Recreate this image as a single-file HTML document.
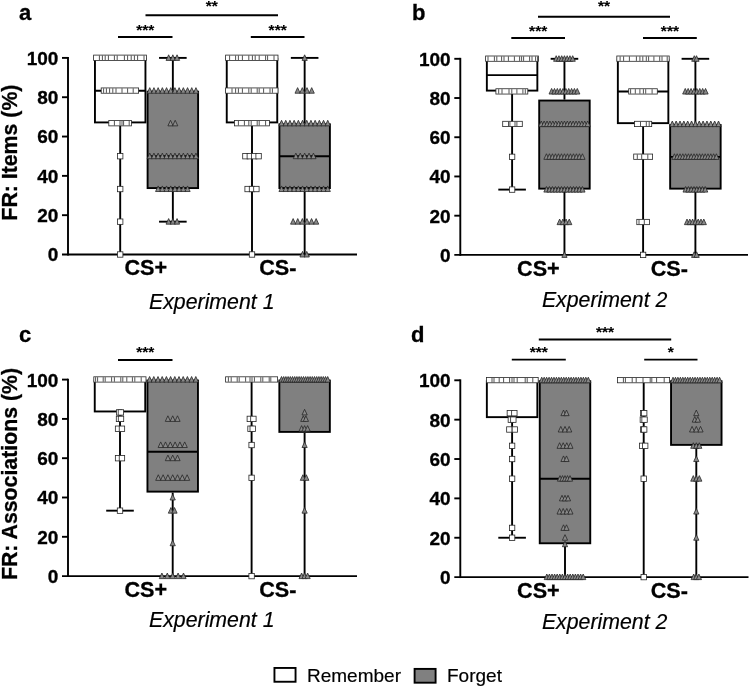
<!DOCTYPE html>
<html lang="en"><head><meta charset="utf-8"><title>Free recall: Remember vs Forget</title>
<style>html,body{margin:0;padding:0;background:#fff}body{width:750px;height:688px;overflow:hidden}svg{display:block}text{font-family:"Liberation Sans", sans-serif;fill:#000;stroke:#000;stroke-width:.18px}text[font-weight=bold]{stroke-width:.3px}</style></head><body>
<svg width="750" height="688" viewBox="0 0 750 688">
<rect width="750" height="688" fill="#fff"/>
<g id="panel-a">
<line x1="68" y1="56.95" x2="68" y2="255.45" stroke="#000" stroke-width="1.9" stroke-linecap="butt"/>
<line x1="62" y1="254.5" x2="357" y2="254.5" stroke="#000" stroke-width="1.9" stroke-linecap="butt"/>
<line x1="62" y1="215.18" x2="68" y2="215.18" stroke="#000" stroke-width="1.9" stroke-linecap="butt"/>
<line x1="62" y1="175.86" x2="68" y2="175.86" stroke="#000" stroke-width="1.9" stroke-linecap="butt"/>
<line x1="62" y1="136.54" x2="68" y2="136.54" stroke="#000" stroke-width="1.9" stroke-linecap="butt"/>
<line x1="62" y1="97.22" x2="68" y2="97.22" stroke="#000" stroke-width="1.9" stroke-linecap="butt"/>
<line x1="62" y1="57.9" x2="68" y2="57.9" stroke="#000" stroke-width="1.9" stroke-linecap="butt"/>
<text x="58.4" y="261.4" font-size="19" font-weight="bold" font-style="normal" text-anchor="end" >0</text>
<text x="58.4" y="222.08" font-size="19" font-weight="bold" font-style="normal" text-anchor="end" >20</text>
<text x="58.4" y="182.76" font-size="19" font-weight="bold" font-style="normal" text-anchor="end" >40</text>
<text x="58.4" y="143.44" font-size="19" font-weight="bold" font-style="normal" text-anchor="end" >60</text>
<text x="58.4" y="104.12" font-size="19" font-weight="bold" font-style="normal" text-anchor="end" >80</text>
<text x="58.4" y="64.8" font-size="19" font-weight="bold" font-style="normal" text-anchor="end" >100</text>
<line x1="120.2" y1="123.37" x2="120.2" y2="254.5" stroke="#000" stroke-width="1.9" stroke-linecap="butt"/>
<rect x="94.95" y="58.85" width="50.5" height="63.57" fill="#fff" stroke="#000" stroke-width="1.9"/>
<line x1="94.95" y1="90.73" x2="145.45" y2="90.73" stroke="#000" stroke-width="1.9" stroke-linecap="butt"/>
<rect x="93.6" y="55.1" width="52.8" height="5.3" fill="#fff" stroke="#262626" stroke-width="0.8"/>
<path d="M99.4 55.5V60 M102.4 55.5V60 M105.2 55.5V60 M108.4 55.5V60 M114.4 55.5V60 M117.2 55.5V60 M124.4 55.5V60 M127.6 55.5V60 M131.2 55.5V60 M134.4 55.5V60 M137.6 55.5V60 M144 55.5V60" stroke="#262626" stroke-width="0.8" fill="none"/>
<rect x="101.2" y="87.93" width="37.4" height="5.3" fill="#fff" stroke="#262626" stroke-width="0.8"/>
<path d="M103.6 88.33V92.83 M106.4 88.33V92.83 M109.6 88.33V92.83 M112.8 88.33V92.83 M116 88.33V92.83 M122 88.33V92.83 M127.6 88.33V92.83 M133.2 88.33V92.83" stroke="#262626" stroke-width="0.8" fill="none"/>
<rect x="108.8" y="120.57" width="22.6" height="5.3" fill="#fff" stroke="#262626" stroke-width="0.8"/>
<path d="M114.4 120.97V125.47 M120 120.97V125.47 M122 120.97V125.47 M123.6 120.97V125.47 M129.2 120.97V125.47" stroke="#262626" stroke-width="0.8" fill="none"/>
<rect x="117.5" y="153.5" width="5.4" height="5.4" fill="#fff" stroke="#262626" stroke-width="0.8"/>
<rect x="117.5" y="186.33" width="5.4" height="5.4" fill="#fff" stroke="#262626" stroke-width="0.8"/>
<rect x="117.5" y="218.97" width="5.4" height="5.4" fill="#fff" stroke="#262626" stroke-width="0.8"/>
<rect x="117.5" y="251.8" width="5.4" height="5.4" fill="#fff" stroke="#262626" stroke-width="0.8"/>
<line x1="172.85" y1="90.73" x2="172.85" y2="57.9" stroke="#000" stroke-width="1.9" stroke-linecap="butt"/>
<line x1="159.05" y1="57.9" x2="186.65" y2="57.9" stroke="#000" stroke-width="1.9" stroke-linecap="butt"/>
<line x1="172.85" y1="189.03" x2="172.85" y2="221.67" stroke="#000" stroke-width="1.9" stroke-linecap="butt"/>
<line x1="159.05" y1="221.67" x2="186.65" y2="221.67" stroke="#000" stroke-width="1.9" stroke-linecap="butt"/>
<rect x="147.6" y="91.68" width="50.5" height="96.4" fill="#808080" stroke="#000" stroke-width="1.9"/>
<line x1="147.6" y1="156.2" x2="198.1" y2="156.2" stroke="#000" stroke-width="1.9" stroke-linecap="butt"/>
<polygon points="168.65,54.8 171.25,60.4 166.05,60.4" fill="#8a8a8a" stroke="#262626" stroke-width="0.8" stroke-linejoin="miter"/>
<polygon points="172.85,54.8 175.45,60.4 170.25,60.4" fill="#8a8a8a" stroke="#262626" stroke-width="0.8" stroke-linejoin="miter"/>
<polygon points="177.05,54.8 179.65,60.4 174.45,60.4" fill="#8a8a8a" stroke="#262626" stroke-width="0.8" stroke-linejoin="miter"/>
<polygon points="149.75,87.63 152.35,93.23 147.15,93.23" fill="#8a8a8a" stroke="#262626" stroke-width="0.8" stroke-linejoin="miter"/>
<polygon points="153.95,87.63 156.55,93.23 151.35,93.23" fill="#8a8a8a" stroke="#262626" stroke-width="0.8" stroke-linejoin="miter"/>
<polygon points="158.15,87.63 160.75,93.23 155.55,93.23" fill="#8a8a8a" stroke="#262626" stroke-width="0.8" stroke-linejoin="miter"/>
<polygon points="162.35,87.63 164.95,93.23 159.75,93.23" fill="#8a8a8a" stroke="#262626" stroke-width="0.8" stroke-linejoin="miter"/>
<polygon points="166.55,87.63 169.15,93.23 163.95,93.23" fill="#8a8a8a" stroke="#262626" stroke-width="0.8" stroke-linejoin="miter"/>
<polygon points="170.75,87.63 173.35,93.23 168.15,93.23" fill="#8a8a8a" stroke="#262626" stroke-width="0.8" stroke-linejoin="miter"/>
<polygon points="174.95,87.63 177.55,93.23 172.35,93.23" fill="#8a8a8a" stroke="#262626" stroke-width="0.8" stroke-linejoin="miter"/>
<polygon points="179.15,87.63 181.75,93.23 176.55,93.23" fill="#8a8a8a" stroke="#262626" stroke-width="0.8" stroke-linejoin="miter"/>
<polygon points="183.35,87.63 185.95,93.23 180.75,93.23" fill="#8a8a8a" stroke="#262626" stroke-width="0.8" stroke-linejoin="miter"/>
<polygon points="187.55,87.63 190.15,93.23 184.95,93.23" fill="#8a8a8a" stroke="#262626" stroke-width="0.8" stroke-linejoin="miter"/>
<polygon points="191.75,87.63 194.35,93.23 189.15,93.23" fill="#8a8a8a" stroke="#262626" stroke-width="0.8" stroke-linejoin="miter"/>
<polygon points="195.95,87.63 198.55,93.23 193.35,93.23" fill="#8a8a8a" stroke="#262626" stroke-width="0.8" stroke-linejoin="miter"/>
<polygon points="170.5,120.27 173.1,125.87 167.9,125.87" fill="#8a8a8a" stroke="#262626" stroke-width="0.8" stroke-linejoin="miter"/>
<polygon points="175.2,120.27 177.8,125.87 172.6,125.87" fill="#8a8a8a" stroke="#262626" stroke-width="0.8" stroke-linejoin="miter"/>
<polygon points="149.75,153.1 152.35,158.7 147.15,158.7" fill="#8a8a8a" stroke="#262626" stroke-width="0.8" stroke-linejoin="miter"/>
<polygon points="153.95,153.1 156.55,158.7 151.35,158.7" fill="#8a8a8a" stroke="#262626" stroke-width="0.8" stroke-linejoin="miter"/>
<polygon points="158.15,153.1 160.75,158.7 155.55,158.7" fill="#8a8a8a" stroke="#262626" stroke-width="0.8" stroke-linejoin="miter"/>
<polygon points="162.35,153.1 164.95,158.7 159.75,158.7" fill="#8a8a8a" stroke="#262626" stroke-width="0.8" stroke-linejoin="miter"/>
<polygon points="166.55,153.1 169.15,158.7 163.95,158.7" fill="#8a8a8a" stroke="#262626" stroke-width="0.8" stroke-linejoin="miter"/>
<polygon points="170.75,153.1 173.35,158.7 168.15,158.7" fill="#8a8a8a" stroke="#262626" stroke-width="0.8" stroke-linejoin="miter"/>
<polygon points="174.95,153.1 177.55,158.7 172.35,158.7" fill="#8a8a8a" stroke="#262626" stroke-width="0.8" stroke-linejoin="miter"/>
<polygon points="179.15,153.1 181.75,158.7 176.55,158.7" fill="#8a8a8a" stroke="#262626" stroke-width="0.8" stroke-linejoin="miter"/>
<polygon points="183.35,153.1 185.95,158.7 180.75,158.7" fill="#8a8a8a" stroke="#262626" stroke-width="0.8" stroke-linejoin="miter"/>
<polygon points="187.55,153.1 190.15,158.7 184.95,158.7" fill="#8a8a8a" stroke="#262626" stroke-width="0.8" stroke-linejoin="miter"/>
<polygon points="191.75,153.1 194.35,158.7 189.15,158.7" fill="#8a8a8a" stroke="#262626" stroke-width="0.8" stroke-linejoin="miter"/>
<polygon points="195.95,153.1 198.55,158.7 193.35,158.7" fill="#8a8a8a" stroke="#262626" stroke-width="0.8" stroke-linejoin="miter"/>
<polygon points="158.15,185.93 160.75,191.53 155.55,191.53" fill="#8a8a8a" stroke="#262626" stroke-width="0.8" stroke-linejoin="miter"/>
<polygon points="162.35,185.93 164.95,191.53 159.75,191.53" fill="#8a8a8a" stroke="#262626" stroke-width="0.8" stroke-linejoin="miter"/>
<polygon points="166.55,185.93 169.15,191.53 163.95,191.53" fill="#8a8a8a" stroke="#262626" stroke-width="0.8" stroke-linejoin="miter"/>
<polygon points="170.75,185.93 173.35,191.53 168.15,191.53" fill="#8a8a8a" stroke="#262626" stroke-width="0.8" stroke-linejoin="miter"/>
<polygon points="174.95,185.93 177.55,191.53 172.35,191.53" fill="#8a8a8a" stroke="#262626" stroke-width="0.8" stroke-linejoin="miter"/>
<polygon points="179.15,185.93 181.75,191.53 176.55,191.53" fill="#8a8a8a" stroke="#262626" stroke-width="0.8" stroke-linejoin="miter"/>
<polygon points="183.35,185.93 185.95,191.53 180.75,191.53" fill="#8a8a8a" stroke="#262626" stroke-width="0.8" stroke-linejoin="miter"/>
<polygon points="187.55,185.93 190.15,191.53 184.95,191.53" fill="#8a8a8a" stroke="#262626" stroke-width="0.8" stroke-linejoin="miter"/>
<polygon points="168.65,218.57 171.25,224.17 166.05,224.17" fill="#8a8a8a" stroke="#262626" stroke-width="0.8" stroke-linejoin="miter"/>
<polygon points="172.85,218.57 175.45,224.17 170.25,224.17" fill="#8a8a8a" stroke="#262626" stroke-width="0.8" stroke-linejoin="miter"/>
<polygon points="177.05,218.57 179.65,224.17 174.45,224.17" fill="#8a8a8a" stroke="#262626" stroke-width="0.8" stroke-linejoin="miter"/>
<line x1="252" y1="123.37" x2="252" y2="254.5" stroke="#000" stroke-width="1.9" stroke-linecap="butt"/>
<rect x="226.75" y="58.85" width="50.5" height="63.57" fill="#fff" stroke="#000" stroke-width="1.9"/>
<line x1="226.75" y1="90.73" x2="277.25" y2="90.73" stroke="#000" stroke-width="1.9" stroke-linecap="butt"/>
<rect x="225.6" y="55.1" width="52.4" height="5.3" fill="#fff" stroke="#262626" stroke-width="0.8"/>
<path d="M229.6 55.5V60 M235.6 55.5V60 M238.4 55.5V60 M242.4 55.5V60 M248.8 55.5V60 M252.4 55.5V60 M255.2 55.5V60 M259.2 55.5V60 M265.6 55.5V60 M267.6 55.5V60 M274 55.5V60" stroke="#262626" stroke-width="0.8" fill="none"/>
<rect x="225.6" y="87.93" width="52.4" height="5.3" fill="#fff" stroke="#262626" stroke-width="0.8"/>
<path d="M232 88.33V92.83 M235.6 88.33V92.83 M238.4 88.33V92.83 M242.4 88.33V92.83 M248.8 88.33V92.83 M251.2 88.33V92.83 M257.2 88.33V92.83 M259.2 88.33V92.83 M263.6 88.33V92.83 M270 88.33V92.83 M272.4 88.33V92.83" stroke="#262626" stroke-width="0.8" fill="none"/>
<rect x="234.4" y="120.57" width="35" height="5.3" fill="#fff" stroke="#262626" stroke-width="0.8"/>
<path d="M238.4 120.97V125.47 M244.4 120.97V125.47 M248.8 120.97V125.47 M251.2 120.97V125.47 M257.2 120.97V125.47 M259.2 120.97V125.47 M265.6 120.97V125.47" stroke="#262626" stroke-width="0.8" fill="none"/>
<rect x="242.7" y="153.5" width="5.4" height="5.4" fill="#fff" stroke="#262626" stroke-width="0.8"/>
<rect x="247.1" y="153.5" width="5.4" height="5.4" fill="#fff" stroke="#262626" stroke-width="0.8"/>
<rect x="251.5" y="153.5" width="5.4" height="5.4" fill="#fff" stroke="#262626" stroke-width="0.8"/>
<rect x="255.9" y="153.5" width="5.4" height="5.4" fill="#fff" stroke="#262626" stroke-width="0.8"/>
<rect x="244.9" y="186.33" width="5.4" height="5.4" fill="#fff" stroke="#262626" stroke-width="0.8"/>
<rect x="249.3" y="186.33" width="5.4" height="5.4" fill="#fff" stroke="#262626" stroke-width="0.8"/>
<rect x="253.7" y="186.33" width="5.4" height="5.4" fill="#fff" stroke="#262626" stroke-width="0.8"/>
<rect x="249.3" y="251.8" width="5.4" height="5.4" fill="#fff" stroke="#262626" stroke-width="0.8"/>
<line x1="304.65" y1="123.37" x2="304.65" y2="57.9" stroke="#000" stroke-width="1.9" stroke-linecap="butt"/>
<line x1="290.85" y1="57.9" x2="318.45" y2="57.9" stroke="#000" stroke-width="1.9" stroke-linecap="butt"/>
<line x1="304.65" y1="189.03" x2="304.65" y2="254.5" stroke="#000" stroke-width="1.9" stroke-linecap="butt"/>
<rect x="279.4" y="124.32" width="50.5" height="63.76" fill="#808080" stroke="#000" stroke-width="1.9"/>
<line x1="279.4" y1="156.2" x2="329.9" y2="156.2" stroke="#000" stroke-width="1.9" stroke-linecap="butt"/>
<polygon points="304.65,54.8 307.25,60.4 302.05,60.4" fill="#8a8a8a" stroke="#262626" stroke-width="0.8" stroke-linejoin="miter"/>
<polygon points="297.6,87.63 300.2,93.23 295,93.23" fill="#8a8a8a" stroke="#262626" stroke-width="0.8" stroke-linejoin="miter"/>
<polygon points="302.3,87.63 304.9,93.23 299.7,93.23" fill="#8a8a8a" stroke="#262626" stroke-width="0.8" stroke-linejoin="miter"/>
<polygon points="307,87.63 309.6,93.23 304.4,93.23" fill="#8a8a8a" stroke="#262626" stroke-width="0.8" stroke-linejoin="miter"/>
<polygon points="311.7,87.63 314.3,93.23 309.1,93.23" fill="#8a8a8a" stroke="#262626" stroke-width="0.8" stroke-linejoin="miter"/>
<polygon points="281.55,120.27 284.15,125.87 278.95,125.87" fill="#8a8a8a" stroke="#262626" stroke-width="0.8" stroke-linejoin="miter"/>
<polygon points="285.75,120.27 288.35,125.87 283.15,125.87" fill="#8a8a8a" stroke="#262626" stroke-width="0.8" stroke-linejoin="miter"/>
<polygon points="289.95,120.27 292.55,125.87 287.35,125.87" fill="#8a8a8a" stroke="#262626" stroke-width="0.8" stroke-linejoin="miter"/>
<polygon points="294.15,120.27 296.75,125.87 291.55,125.87" fill="#8a8a8a" stroke="#262626" stroke-width="0.8" stroke-linejoin="miter"/>
<polygon points="298.35,120.27 300.95,125.87 295.75,125.87" fill="#8a8a8a" stroke="#262626" stroke-width="0.8" stroke-linejoin="miter"/>
<polygon points="302.55,120.27 305.15,125.87 299.95,125.87" fill="#8a8a8a" stroke="#262626" stroke-width="0.8" stroke-linejoin="miter"/>
<polygon points="306.75,120.27 309.35,125.87 304.15,125.87" fill="#8a8a8a" stroke="#262626" stroke-width="0.8" stroke-linejoin="miter"/>
<polygon points="310.95,120.27 313.55,125.87 308.35,125.87" fill="#8a8a8a" stroke="#262626" stroke-width="0.8" stroke-linejoin="miter"/>
<polygon points="315.15,120.27 317.75,125.87 312.55,125.87" fill="#8a8a8a" stroke="#262626" stroke-width="0.8" stroke-linejoin="miter"/>
<polygon points="319.35,120.27 321.95,125.87 316.75,125.87" fill="#8a8a8a" stroke="#262626" stroke-width="0.8" stroke-linejoin="miter"/>
<polygon points="323.55,120.27 326.15,125.87 320.95,125.87" fill="#8a8a8a" stroke="#262626" stroke-width="0.8" stroke-linejoin="miter"/>
<polygon points="327.75,120.27 330.35,125.87 325.15,125.87" fill="#8a8a8a" stroke="#262626" stroke-width="0.8" stroke-linejoin="miter"/>
<polygon points="295.85,153.1 298.45,158.7 293.25,158.7" fill="#8a8a8a" stroke="#262626" stroke-width="0.8" stroke-linejoin="miter"/>
<polygon points="300.25,153.1 302.85,158.7 297.65,158.7" fill="#8a8a8a" stroke="#262626" stroke-width="0.8" stroke-linejoin="miter"/>
<polygon points="304.65,153.1 307.25,158.7 302.05,158.7" fill="#8a8a8a" stroke="#262626" stroke-width="0.8" stroke-linejoin="miter"/>
<polygon points="309.05,153.1 311.65,158.7 306.45,158.7" fill="#8a8a8a" stroke="#262626" stroke-width="0.8" stroke-linejoin="miter"/>
<polygon points="313.45,153.1 316.05,158.7 310.85,158.7" fill="#8a8a8a" stroke="#262626" stroke-width="0.8" stroke-linejoin="miter"/>
<polygon points="281.55,185.93 284.15,191.53 278.95,191.53" fill="#8a8a8a" stroke="#262626" stroke-width="0.8" stroke-linejoin="miter"/>
<polygon points="285.75,185.93 288.35,191.53 283.15,191.53" fill="#8a8a8a" stroke="#262626" stroke-width="0.8" stroke-linejoin="miter"/>
<polygon points="289.95,185.93 292.55,191.53 287.35,191.53" fill="#8a8a8a" stroke="#262626" stroke-width="0.8" stroke-linejoin="miter"/>
<polygon points="294.15,185.93 296.75,191.53 291.55,191.53" fill="#8a8a8a" stroke="#262626" stroke-width="0.8" stroke-linejoin="miter"/>
<polygon points="298.35,185.93 300.95,191.53 295.75,191.53" fill="#8a8a8a" stroke="#262626" stroke-width="0.8" stroke-linejoin="miter"/>
<polygon points="302.55,185.93 305.15,191.53 299.95,191.53" fill="#8a8a8a" stroke="#262626" stroke-width="0.8" stroke-linejoin="miter"/>
<polygon points="306.75,185.93 309.35,191.53 304.15,191.53" fill="#8a8a8a" stroke="#262626" stroke-width="0.8" stroke-linejoin="miter"/>
<polygon points="310.95,185.93 313.55,191.53 308.35,191.53" fill="#8a8a8a" stroke="#262626" stroke-width="0.8" stroke-linejoin="miter"/>
<polygon points="315.15,185.93 317.75,191.53 312.55,191.53" fill="#8a8a8a" stroke="#262626" stroke-width="0.8" stroke-linejoin="miter"/>
<polygon points="319.35,185.93 321.95,191.53 316.75,191.53" fill="#8a8a8a" stroke="#262626" stroke-width="0.8" stroke-linejoin="miter"/>
<polygon points="323.55,185.93 326.15,191.53 320.95,191.53" fill="#8a8a8a" stroke="#262626" stroke-width="0.8" stroke-linejoin="miter"/>
<polygon points="327.75,185.93 330.35,191.53 325.15,191.53" fill="#8a8a8a" stroke="#262626" stroke-width="0.8" stroke-linejoin="miter"/>
<polygon points="293.15,218.57 295.75,224.17 290.55,224.17" fill="#8a8a8a" stroke="#262626" stroke-width="0.8" stroke-linejoin="miter"/>
<polygon points="297.75,218.57 300.35,224.17 295.15,224.17" fill="#8a8a8a" stroke="#262626" stroke-width="0.8" stroke-linejoin="miter"/>
<polygon points="302.35,218.57 304.95,224.17 299.75,224.17" fill="#8a8a8a" stroke="#262626" stroke-width="0.8" stroke-linejoin="miter"/>
<polygon points="306.95,218.57 309.55,224.17 304.35,224.17" fill="#8a8a8a" stroke="#262626" stroke-width="0.8" stroke-linejoin="miter"/>
<polygon points="311.55,218.57 314.15,224.17 308.95,224.17" fill="#8a8a8a" stroke="#262626" stroke-width="0.8" stroke-linejoin="miter"/>
<polygon points="316.15,218.57 318.75,224.17 313.55,224.17" fill="#8a8a8a" stroke="#262626" stroke-width="0.8" stroke-linejoin="miter"/>
<polygon points="302.55,251.4 305.15,257 299.95,257" fill="#8a8a8a" stroke="#262626" stroke-width="0.8" stroke-linejoin="miter"/>
<polygon points="306.75,251.4 309.35,257 304.15,257" fill="#8a8a8a" stroke="#262626" stroke-width="0.8" stroke-linejoin="miter"/>
<line x1="145.5" y1="15.2" x2="278" y2="15.2" stroke="#000" stroke-width="1.9" stroke-linecap="butt"/>
<text x="211.75" y="11.2" font-size="15.5" font-weight="bold" font-style="normal" text-anchor="middle" style="stroke-width:.08px">**</text>
<line x1="118" y1="37" x2="172.5" y2="37" stroke="#000" stroke-width="1.9" stroke-linecap="butt"/>
<text x="145.25" y="34.5" font-size="15.5" font-weight="bold" font-style="normal" text-anchor="middle" style="stroke-width:.08px">***</text>
<line x1="250.8" y1="37" x2="304.5" y2="37" stroke="#000" stroke-width="1.9" stroke-linecap="butt"/>
<text x="277.65" y="34.5" font-size="15.5" font-weight="bold" font-style="normal" text-anchor="middle" style="stroke-width:.08px">***</text>
<text x="19" y="19.8" font-size="22" font-weight="bold" font-style="normal" text-anchor="start" >a</text>
<text x="124.5" y="275.2" font-size="21.6" font-weight="bold" font-style="normal" text-anchor="start" >CS+</text>
<text x="259.2" y="275.2" font-size="21.6" font-weight="bold" font-style="normal" text-anchor="start" >CS-</text>
<text x="149" y="308.7" font-size="21.3" font-weight="normal" font-style="italic" text-anchor="start" >Experiment 1</text>
<text transform="translate(17,152.6) rotate(-90)" font-size="21.3" font-weight="bold" text-anchor="middle">FR: Items (%)</text>
</g>
<g id="panel-b">
<line x1="460.3" y1="57.85" x2="460.3" y2="255.85" stroke="#000" stroke-width="1.9" stroke-linecap="butt"/>
<line x1="454.3" y1="254.9" x2="748" y2="254.9" stroke="#000" stroke-width="1.9" stroke-linecap="butt"/>
<line x1="454.3" y1="215.68" x2="460.3" y2="215.68" stroke="#000" stroke-width="1.9" stroke-linecap="butt"/>
<line x1="454.3" y1="176.46" x2="460.3" y2="176.46" stroke="#000" stroke-width="1.9" stroke-linecap="butt"/>
<line x1="454.3" y1="137.24" x2="460.3" y2="137.24" stroke="#000" stroke-width="1.9" stroke-linecap="butt"/>
<line x1="454.3" y1="98.02" x2="460.3" y2="98.02" stroke="#000" stroke-width="1.9" stroke-linecap="butt"/>
<line x1="454.3" y1="58.8" x2="460.3" y2="58.8" stroke="#000" stroke-width="1.9" stroke-linecap="butt"/>
<text x="450.7" y="261.8" font-size="19" font-weight="bold" font-style="normal" text-anchor="end" >0</text>
<text x="450.7" y="222.58" font-size="19" font-weight="bold" font-style="normal" text-anchor="end" >20</text>
<text x="450.7" y="183.36" font-size="19" font-weight="bold" font-style="normal" text-anchor="end" >40</text>
<text x="450.7" y="144.14" font-size="19" font-weight="bold" font-style="normal" text-anchor="end" >60</text>
<text x="450.7" y="104.92" font-size="19" font-weight="bold" font-style="normal" text-anchor="end" >80</text>
<text x="450.7" y="65.7" font-size="19" font-weight="bold" font-style="normal" text-anchor="end" >100</text>
<line x1="512.1" y1="91.55" x2="512.1" y2="189.6" stroke="#000" stroke-width="1.9" stroke-linecap="butt"/>
<line x1="498.3" y1="189.6" x2="525.9" y2="189.6" stroke="#000" stroke-width="1.9" stroke-linecap="butt"/>
<rect x="486.85" y="59.75" width="50.5" height="30.85" fill="#fff" stroke="#000" stroke-width="1.9"/>
<line x1="486.85" y1="75.08" x2="537.35" y2="75.08" stroke="#000" stroke-width="1.9" stroke-linecap="butt"/>
<rect x="485.6" y="56" width="52.8" height="5.3" fill="#fff" stroke="#262626" stroke-width="0.8"/>
<path d="M488 56.4V60.9 M494.4 56.4V60.9 M496.8 56.4V60.9 M501.6 56.4V60.9 M504 56.4V60.9 M508.4 56.4V60.9 M514.4 56.4V60.9 M519.6 56.4V60.9 M521.6 56.4V60.9 M523.6 56.4V60.9 M529.6 56.4V60.9 M532 56.4V60.9 M535.6 56.4V60.9 M537.6 56.4V60.9" stroke="#262626" stroke-width="0.8" fill="none"/>
<rect x="495.9" y="88.75" width="31.9" height="5.3" fill="#fff" stroke="#262626" stroke-width="0.8"/>
<path d="M498.7 89.15V93.65 M502 89.15V93.65 M509 89.15V93.65 M511.8 89.15V93.65 M516.9 89.15V93.65 M522.9 89.15V93.65 M525.3 89.15V93.65" stroke="#262626" stroke-width="0.8" fill="none"/>
<rect x="502.7" y="121.3" width="19.6" height="5.3" fill="#fff" stroke="#262626" stroke-width="0.8"/>
<path d="M508.5 121.7V126.2 M509.9 121.7V126.2 M515 121.7V126.2 M516.9 121.7V126.2" stroke="#262626" stroke-width="0.8" fill="none"/>
<rect x="509.4" y="154.15" width="5.4" height="5.4" fill="#fff" stroke="#262626" stroke-width="0.8"/>
<rect x="509.4" y="186.9" width="5.4" height="5.4" fill="#fff" stroke="#262626" stroke-width="0.8"/>
<line x1="564.45" y1="99.59" x2="564.45" y2="58.8" stroke="#000" stroke-width="1.9" stroke-linecap="butt"/>
<line x1="550.65" y1="58.8" x2="578.25" y2="58.8" stroke="#000" stroke-width="1.9" stroke-linecap="butt"/>
<line x1="564.45" y1="189.6" x2="564.45" y2="254.9" stroke="#000" stroke-width="1.9" stroke-linecap="butt"/>
<rect x="539.2" y="100.54" width="50.5" height="88.11" fill="#808080" stroke="#000" stroke-width="1.9"/>
<line x1="539.2" y1="124.1" x2="589.7" y2="124.1" stroke="#000" stroke-width="1.9" stroke-linecap="butt"/>
<polygon points="556.2,55.7 558.8,61.3 553.6,61.3" fill="#8a8a8a" stroke="#262626" stroke-width="0.8" stroke-linejoin="miter"/>
<polygon points="558.95,55.7 561.55,61.3 556.35,61.3" fill="#8a8a8a" stroke="#262626" stroke-width="0.8" stroke-linejoin="miter"/>
<polygon points="561.7,55.7 564.3,61.3 559.1,61.3" fill="#8a8a8a" stroke="#262626" stroke-width="0.8" stroke-linejoin="miter"/>
<polygon points="564.45,55.7 567.05,61.3 561.85,61.3" fill="#8a8a8a" stroke="#262626" stroke-width="0.8" stroke-linejoin="miter"/>
<polygon points="567.2,55.7 569.8,61.3 564.6,61.3" fill="#8a8a8a" stroke="#262626" stroke-width="0.8" stroke-linejoin="miter"/>
<polygon points="569.95,55.7 572.55,61.3 567.35,61.3" fill="#8a8a8a" stroke="#262626" stroke-width="0.8" stroke-linejoin="miter"/>
<polygon points="572.7,55.7 575.3,61.3 570.1,61.3" fill="#8a8a8a" stroke="#262626" stroke-width="0.8" stroke-linejoin="miter"/>
<polygon points="551.62,88.45 554.23,94.05 549.02,94.05" fill="#8a8a8a" stroke="#262626" stroke-width="0.8" stroke-linejoin="miter"/>
<polygon points="554.48,88.45 557.08,94.05 551.88,94.05" fill="#8a8a8a" stroke="#262626" stroke-width="0.8" stroke-linejoin="miter"/>
<polygon points="557.33,88.45 559.93,94.05 554.73,94.05" fill="#8a8a8a" stroke="#262626" stroke-width="0.8" stroke-linejoin="miter"/>
<polygon points="560.17,88.45 562.77,94.05 557.57,94.05" fill="#8a8a8a" stroke="#262626" stroke-width="0.8" stroke-linejoin="miter"/>
<polygon points="563.02,88.45 565.62,94.05 560.42,94.05" fill="#8a8a8a" stroke="#262626" stroke-width="0.8" stroke-linejoin="miter"/>
<polygon points="565.88,88.45 568.48,94.05 563.27,94.05" fill="#8a8a8a" stroke="#262626" stroke-width="0.8" stroke-linejoin="miter"/>
<polygon points="568.73,88.45 571.33,94.05 566.12,94.05" fill="#8a8a8a" stroke="#262626" stroke-width="0.8" stroke-linejoin="miter"/>
<polygon points="571.58,88.45 574.18,94.05 568.98,94.05" fill="#8a8a8a" stroke="#262626" stroke-width="0.8" stroke-linejoin="miter"/>
<polygon points="574.42,88.45 577.02,94.05 571.82,94.05" fill="#8a8a8a" stroke="#262626" stroke-width="0.8" stroke-linejoin="miter"/>
<polygon points="577.27,88.45 579.88,94.05 574.67,94.05" fill="#8a8a8a" stroke="#262626" stroke-width="0.8" stroke-linejoin="miter"/>
<polygon points="541.25,121 543.85,126.6 538.65,126.6" fill="#8a8a8a" stroke="#262626" stroke-width="0.8" stroke-linejoin="miter"/>
<polygon points="544.15,121 546.75,126.6 541.55,126.6" fill="#8a8a8a" stroke="#262626" stroke-width="0.8" stroke-linejoin="miter"/>
<polygon points="547.05,121 549.65,126.6 544.45,126.6" fill="#8a8a8a" stroke="#262626" stroke-width="0.8" stroke-linejoin="miter"/>
<polygon points="549.95,121 552.55,126.6 547.35,126.6" fill="#8a8a8a" stroke="#262626" stroke-width="0.8" stroke-linejoin="miter"/>
<polygon points="552.85,121 555.45,126.6 550.25,126.6" fill="#8a8a8a" stroke="#262626" stroke-width="0.8" stroke-linejoin="miter"/>
<polygon points="555.75,121 558.35,126.6 553.15,126.6" fill="#8a8a8a" stroke="#262626" stroke-width="0.8" stroke-linejoin="miter"/>
<polygon points="558.65,121 561.25,126.6 556.05,126.6" fill="#8a8a8a" stroke="#262626" stroke-width="0.8" stroke-linejoin="miter"/>
<polygon points="561.55,121 564.15,126.6 558.95,126.6" fill="#8a8a8a" stroke="#262626" stroke-width="0.8" stroke-linejoin="miter"/>
<polygon points="564.45,121 567.05,126.6 561.85,126.6" fill="#8a8a8a" stroke="#262626" stroke-width="0.8" stroke-linejoin="miter"/>
<polygon points="567.35,121 569.95,126.6 564.75,126.6" fill="#8a8a8a" stroke="#262626" stroke-width="0.8" stroke-linejoin="miter"/>
<polygon points="570.25,121 572.85,126.6 567.65,126.6" fill="#8a8a8a" stroke="#262626" stroke-width="0.8" stroke-linejoin="miter"/>
<polygon points="573.15,121 575.75,126.6 570.55,126.6" fill="#8a8a8a" stroke="#262626" stroke-width="0.8" stroke-linejoin="miter"/>
<polygon points="576.05,121 578.65,126.6 573.45,126.6" fill="#8a8a8a" stroke="#262626" stroke-width="0.8" stroke-linejoin="miter"/>
<polygon points="578.95,121 581.55,126.6 576.35,126.6" fill="#8a8a8a" stroke="#262626" stroke-width="0.8" stroke-linejoin="miter"/>
<polygon points="581.85,121 584.45,126.6 579.25,126.6" fill="#8a8a8a" stroke="#262626" stroke-width="0.8" stroke-linejoin="miter"/>
<polygon points="584.75,121 587.35,126.6 582.15,126.6" fill="#8a8a8a" stroke="#262626" stroke-width="0.8" stroke-linejoin="miter"/>
<polygon points="587.65,121 590.25,126.6 585.05,126.6" fill="#8a8a8a" stroke="#262626" stroke-width="0.8" stroke-linejoin="miter"/>
<polygon points="546.45,153.75 549.05,159.35 543.85,159.35" fill="#8a8a8a" stroke="#262626" stroke-width="0.8" stroke-linejoin="miter"/>
<polygon points="549.45,153.75 552.05,159.35 546.85,159.35" fill="#8a8a8a" stroke="#262626" stroke-width="0.8" stroke-linejoin="miter"/>
<polygon points="552.45,153.75 555.05,159.35 549.85,159.35" fill="#8a8a8a" stroke="#262626" stroke-width="0.8" stroke-linejoin="miter"/>
<polygon points="555.45,153.75 558.05,159.35 552.85,159.35" fill="#8a8a8a" stroke="#262626" stroke-width="0.8" stroke-linejoin="miter"/>
<polygon points="558.45,153.75 561.05,159.35 555.85,159.35" fill="#8a8a8a" stroke="#262626" stroke-width="0.8" stroke-linejoin="miter"/>
<polygon points="561.45,153.75 564.05,159.35 558.85,159.35" fill="#8a8a8a" stroke="#262626" stroke-width="0.8" stroke-linejoin="miter"/>
<polygon points="564.45,153.75 567.05,159.35 561.85,159.35" fill="#8a8a8a" stroke="#262626" stroke-width="0.8" stroke-linejoin="miter"/>
<polygon points="567.45,153.75 570.05,159.35 564.85,159.35" fill="#8a8a8a" stroke="#262626" stroke-width="0.8" stroke-linejoin="miter"/>
<polygon points="570.45,153.75 573.05,159.35 567.85,159.35" fill="#8a8a8a" stroke="#262626" stroke-width="0.8" stroke-linejoin="miter"/>
<polygon points="573.45,153.75 576.05,159.35 570.85,159.35" fill="#8a8a8a" stroke="#262626" stroke-width="0.8" stroke-linejoin="miter"/>
<polygon points="576.45,153.75 579.05,159.35 573.85,159.35" fill="#8a8a8a" stroke="#262626" stroke-width="0.8" stroke-linejoin="miter"/>
<polygon points="579.45,153.75 582.05,159.35 576.85,159.35" fill="#8a8a8a" stroke="#262626" stroke-width="0.8" stroke-linejoin="miter"/>
<polygon points="582.45,153.75 585.05,159.35 579.85,159.35" fill="#8a8a8a" stroke="#262626" stroke-width="0.8" stroke-linejoin="miter"/>
<polygon points="546.45,186.5 549.05,192.1 543.85,192.1" fill="#8a8a8a" stroke="#262626" stroke-width="0.8" stroke-linejoin="miter"/>
<polygon points="549.45,186.5 552.05,192.1 546.85,192.1" fill="#8a8a8a" stroke="#262626" stroke-width="0.8" stroke-linejoin="miter"/>
<polygon points="552.45,186.5 555.05,192.1 549.85,192.1" fill="#8a8a8a" stroke="#262626" stroke-width="0.8" stroke-linejoin="miter"/>
<polygon points="555.45,186.5 558.05,192.1 552.85,192.1" fill="#8a8a8a" stroke="#262626" stroke-width="0.8" stroke-linejoin="miter"/>
<polygon points="558.45,186.5 561.05,192.1 555.85,192.1" fill="#8a8a8a" stroke="#262626" stroke-width="0.8" stroke-linejoin="miter"/>
<polygon points="561.45,186.5 564.05,192.1 558.85,192.1" fill="#8a8a8a" stroke="#262626" stroke-width="0.8" stroke-linejoin="miter"/>
<polygon points="564.45,186.5 567.05,192.1 561.85,192.1" fill="#8a8a8a" stroke="#262626" stroke-width="0.8" stroke-linejoin="miter"/>
<polygon points="567.45,186.5 570.05,192.1 564.85,192.1" fill="#8a8a8a" stroke="#262626" stroke-width="0.8" stroke-linejoin="miter"/>
<polygon points="570.45,186.5 573.05,192.1 567.85,192.1" fill="#8a8a8a" stroke="#262626" stroke-width="0.8" stroke-linejoin="miter"/>
<polygon points="573.45,186.5 576.05,192.1 570.85,192.1" fill="#8a8a8a" stroke="#262626" stroke-width="0.8" stroke-linejoin="miter"/>
<polygon points="576.45,186.5 579.05,192.1 573.85,192.1" fill="#8a8a8a" stroke="#262626" stroke-width="0.8" stroke-linejoin="miter"/>
<polygon points="579.45,186.5 582.05,192.1 576.85,192.1" fill="#8a8a8a" stroke="#262626" stroke-width="0.8" stroke-linejoin="miter"/>
<polygon points="582.45,186.5 585.05,192.1 579.85,192.1" fill="#8a8a8a" stroke="#262626" stroke-width="0.8" stroke-linejoin="miter"/>
<polygon points="559.65,219.05 562.25,224.65 557.05,224.65" fill="#8a8a8a" stroke="#262626" stroke-width="0.8" stroke-linejoin="miter"/>
<polygon points="562.85,219.05 565.45,224.65 560.25,224.65" fill="#8a8a8a" stroke="#262626" stroke-width="0.8" stroke-linejoin="miter"/>
<polygon points="566.05,219.05 568.65,224.65 563.45,224.65" fill="#8a8a8a" stroke="#262626" stroke-width="0.8" stroke-linejoin="miter"/>
<polygon points="569.25,219.05 571.85,224.65 566.65,224.65" fill="#8a8a8a" stroke="#262626" stroke-width="0.8" stroke-linejoin="miter"/>
<polygon points="564.45,251.8 567.05,257.4 561.85,257.4" fill="#8a8a8a" stroke="#262626" stroke-width="0.8" stroke-linejoin="miter"/>
<line x1="643.1" y1="124.1" x2="643.1" y2="254.9" stroke="#000" stroke-width="1.9" stroke-linecap="butt"/>
<rect x="617.85" y="59.75" width="50.5" height="63.4" fill="#fff" stroke="#000" stroke-width="1.9"/>
<line x1="617.85" y1="91.55" x2="668.35" y2="91.55" stroke="#000" stroke-width="1.9" stroke-linecap="butt"/>
<rect x="616.8" y="56" width="52.4" height="5.3" fill="#fff" stroke="#262626" stroke-width="0.8"/>
<path d="M620.1 56.4V60.9 M623.6 56.4V60.9 M629.4 56.4V60.9 M636.4 56.4V60.9 M639.9 56.4V60.9 M642.8 56.4V60.9 M646.3 56.4V60.9 M648.6 56.4V60.9 M653.9 56.4V60.9 M659.7 56.4V60.9 M662 56.4V60.9 M667.2 56.4V60.9" stroke="#262626" stroke-width="0.8" fill="none"/>
<rect x="628.7" y="88.75" width="28.6" height="5.3" fill="#fff" stroke="#262626" stroke-width="0.8"/>
<path d="M630.6 89.15V93.65 M635.3 89.15V93.65 M639.9 89.15V93.65 M643.4 89.15V93.65 M645.7 89.15V93.65 M652.1 89.15V93.65" stroke="#262626" stroke-width="0.8" fill="none"/>
<rect x="634.5" y="121.3" width="17.2" height="5.3" fill="#fff" stroke="#262626" stroke-width="0.8"/>
<path d="M640.5 121.7V126.2 M646.3 121.7V126.2 M649.2 121.7V126.2" stroke="#262626" stroke-width="0.8" fill="none"/>
<rect x="633.7" y="154.05" width="18.9" height="5.3" fill="#fff" stroke="#262626" stroke-width="0.8"/>
<path d="M637.3 154.45V158.95 M641.7 154.45V158.95 M647.8 154.45V158.95" stroke="#262626" stroke-width="0.8" fill="none"/>
<rect x="636.8" y="219.35" width="12.7" height="5.3" fill="#fff" stroke="#262626" stroke-width="0.8"/>
<path d="M639 219.75V224.25 M644.3 219.75V224.25" stroke="#262626" stroke-width="0.8" fill="none"/>
<rect x="640.4" y="252.2" width="5.4" height="5.4" fill="#fff" stroke="#262626" stroke-width="0.8"/>
<line x1="695.4" y1="124.1" x2="695.4" y2="58.8" stroke="#000" stroke-width="1.9" stroke-linecap="butt"/>
<line x1="681.6" y1="58.8" x2="709.2" y2="58.8" stroke="#000" stroke-width="1.9" stroke-linecap="butt"/>
<line x1="695.4" y1="189.6" x2="695.4" y2="254.9" stroke="#000" stroke-width="1.9" stroke-linecap="butt"/>
<rect x="670.15" y="125.05" width="50.5" height="63.6" fill="#808080" stroke="#000" stroke-width="1.9"/>
<line x1="670.15" y1="156.85" x2="720.65" y2="156.85" stroke="#000" stroke-width="1.9" stroke-linecap="butt"/>
<polygon points="694.3,55.7 696.9,61.3 691.7,61.3" fill="#8a8a8a" stroke="#262626" stroke-width="0.8" stroke-linejoin="miter"/>
<polygon points="696.5,55.7 699.1,61.3 693.9,61.3" fill="#8a8a8a" stroke="#262626" stroke-width="0.8" stroke-linejoin="miter"/>
<polygon points="685.25,88.45 687.85,94.05 682.65,94.05" fill="#8a8a8a" stroke="#262626" stroke-width="0.8" stroke-linejoin="miter"/>
<polygon points="688.15,88.45 690.75,94.05 685.55,94.05" fill="#8a8a8a" stroke="#262626" stroke-width="0.8" stroke-linejoin="miter"/>
<polygon points="691.05,88.45 693.65,94.05 688.45,94.05" fill="#8a8a8a" stroke="#262626" stroke-width="0.8" stroke-linejoin="miter"/>
<polygon points="693.95,88.45 696.55,94.05 691.35,94.05" fill="#8a8a8a" stroke="#262626" stroke-width="0.8" stroke-linejoin="miter"/>
<polygon points="696.85,88.45 699.45,94.05 694.25,94.05" fill="#8a8a8a" stroke="#262626" stroke-width="0.8" stroke-linejoin="miter"/>
<polygon points="699.75,88.45 702.35,94.05 697.15,94.05" fill="#8a8a8a" stroke="#262626" stroke-width="0.8" stroke-linejoin="miter"/>
<polygon points="702.65,88.45 705.25,94.05 700.05,94.05" fill="#8a8a8a" stroke="#262626" stroke-width="0.8" stroke-linejoin="miter"/>
<polygon points="705.55,88.45 708.15,94.05 702.95,94.05" fill="#8a8a8a" stroke="#262626" stroke-width="0.8" stroke-linejoin="miter"/>
<polygon points="672.3,121 674.9,126.6 669.7,126.6" fill="#8a8a8a" stroke="#262626" stroke-width="0.8" stroke-linejoin="miter"/>
<polygon points="676.15,121 678.75,126.6 673.55,126.6" fill="#8a8a8a" stroke="#262626" stroke-width="0.8" stroke-linejoin="miter"/>
<polygon points="680,121 682.6,126.6 677.4,126.6" fill="#8a8a8a" stroke="#262626" stroke-width="0.8" stroke-linejoin="miter"/>
<polygon points="683.85,121 686.45,126.6 681.25,126.6" fill="#8a8a8a" stroke="#262626" stroke-width="0.8" stroke-linejoin="miter"/>
<polygon points="687.7,121 690.3,126.6 685.1,126.6" fill="#8a8a8a" stroke="#262626" stroke-width="0.8" stroke-linejoin="miter"/>
<polygon points="691.55,121 694.15,126.6 688.95,126.6" fill="#8a8a8a" stroke="#262626" stroke-width="0.8" stroke-linejoin="miter"/>
<polygon points="695.4,121 698,126.6 692.8,126.6" fill="#8a8a8a" stroke="#262626" stroke-width="0.8" stroke-linejoin="miter"/>
<polygon points="699.25,121 701.85,126.6 696.65,126.6" fill="#8a8a8a" stroke="#262626" stroke-width="0.8" stroke-linejoin="miter"/>
<polygon points="703.1,121 705.7,126.6 700.5,126.6" fill="#8a8a8a" stroke="#262626" stroke-width="0.8" stroke-linejoin="miter"/>
<polygon points="706.95,121 709.55,126.6 704.35,126.6" fill="#8a8a8a" stroke="#262626" stroke-width="0.8" stroke-linejoin="miter"/>
<polygon points="710.8,121 713.4,126.6 708.2,126.6" fill="#8a8a8a" stroke="#262626" stroke-width="0.8" stroke-linejoin="miter"/>
<polygon points="714.65,121 717.25,126.6 712.05,126.6" fill="#8a8a8a" stroke="#262626" stroke-width="0.8" stroke-linejoin="miter"/>
<polygon points="718.5,121 721.1,126.6 715.9,126.6" fill="#8a8a8a" stroke="#262626" stroke-width="0.8" stroke-linejoin="miter"/>
<polygon points="674.4,153.75 677,159.35 671.8,159.35" fill="#8a8a8a" stroke="#262626" stroke-width="0.8" stroke-linejoin="miter"/>
<polygon points="677.2,153.75 679.8,159.35 674.6,159.35" fill="#8a8a8a" stroke="#262626" stroke-width="0.8" stroke-linejoin="miter"/>
<polygon points="680,153.75 682.6,159.35 677.4,159.35" fill="#8a8a8a" stroke="#262626" stroke-width="0.8" stroke-linejoin="miter"/>
<polygon points="682.8,153.75 685.4,159.35 680.2,159.35" fill="#8a8a8a" stroke="#262626" stroke-width="0.8" stroke-linejoin="miter"/>
<polygon points="685.6,153.75 688.2,159.35 683,159.35" fill="#8a8a8a" stroke="#262626" stroke-width="0.8" stroke-linejoin="miter"/>
<polygon points="688.4,153.75 691,159.35 685.8,159.35" fill="#8a8a8a" stroke="#262626" stroke-width="0.8" stroke-linejoin="miter"/>
<polygon points="691.2,153.75 693.8,159.35 688.6,159.35" fill="#8a8a8a" stroke="#262626" stroke-width="0.8" stroke-linejoin="miter"/>
<polygon points="694,153.75 696.6,159.35 691.4,159.35" fill="#8a8a8a" stroke="#262626" stroke-width="0.8" stroke-linejoin="miter"/>
<polygon points="696.8,153.75 699.4,159.35 694.2,159.35" fill="#8a8a8a" stroke="#262626" stroke-width="0.8" stroke-linejoin="miter"/>
<polygon points="699.6,153.75 702.2,159.35 697,159.35" fill="#8a8a8a" stroke="#262626" stroke-width="0.8" stroke-linejoin="miter"/>
<polygon points="702.4,153.75 705,159.35 699.8,159.35" fill="#8a8a8a" stroke="#262626" stroke-width="0.8" stroke-linejoin="miter"/>
<polygon points="705.2,153.75 707.8,159.35 702.6,159.35" fill="#8a8a8a" stroke="#262626" stroke-width="0.8" stroke-linejoin="miter"/>
<polygon points="708,153.75 710.6,159.35 705.4,159.35" fill="#8a8a8a" stroke="#262626" stroke-width="0.8" stroke-linejoin="miter"/>
<polygon points="710.8,153.75 713.4,159.35 708.2,159.35" fill="#8a8a8a" stroke="#262626" stroke-width="0.8" stroke-linejoin="miter"/>
<polygon points="713.6,153.75 716.2,159.35 711,159.35" fill="#8a8a8a" stroke="#262626" stroke-width="0.8" stroke-linejoin="miter"/>
<polygon points="716.4,153.75 719,159.35 713.8,159.35" fill="#8a8a8a" stroke="#262626" stroke-width="0.8" stroke-linejoin="miter"/>
<polygon points="685.6,186.5 688.2,192.1 683,192.1" fill="#8a8a8a" stroke="#262626" stroke-width="0.8" stroke-linejoin="miter"/>
<polygon points="688.4,186.5 691,192.1 685.8,192.1" fill="#8a8a8a" stroke="#262626" stroke-width="0.8" stroke-linejoin="miter"/>
<polygon points="691.2,186.5 693.8,192.1 688.6,192.1" fill="#8a8a8a" stroke="#262626" stroke-width="0.8" stroke-linejoin="miter"/>
<polygon points="694,186.5 696.6,192.1 691.4,192.1" fill="#8a8a8a" stroke="#262626" stroke-width="0.8" stroke-linejoin="miter"/>
<polygon points="696.8,186.5 699.4,192.1 694.2,192.1" fill="#8a8a8a" stroke="#262626" stroke-width="0.8" stroke-linejoin="miter"/>
<polygon points="699.6,186.5 702.2,192.1 697,192.1" fill="#8a8a8a" stroke="#262626" stroke-width="0.8" stroke-linejoin="miter"/>
<polygon points="702.4,186.5 705,192.1 699.8,192.1" fill="#8a8a8a" stroke="#262626" stroke-width="0.8" stroke-linejoin="miter"/>
<polygon points="705.2,186.5 707.8,192.1 702.6,192.1" fill="#8a8a8a" stroke="#262626" stroke-width="0.8" stroke-linejoin="miter"/>
<polygon points="687,219.05 689.6,224.65 684.4,224.65" fill="#8a8a8a" stroke="#262626" stroke-width="0.8" stroke-linejoin="miter"/>
<polygon points="689.8,219.05 692.4,224.65 687.2,224.65" fill="#8a8a8a" stroke="#262626" stroke-width="0.8" stroke-linejoin="miter"/>
<polygon points="692.6,219.05 695.2,224.65 690,224.65" fill="#8a8a8a" stroke="#262626" stroke-width="0.8" stroke-linejoin="miter"/>
<polygon points="695.4,219.05 698,224.65 692.8,224.65" fill="#8a8a8a" stroke="#262626" stroke-width="0.8" stroke-linejoin="miter"/>
<polygon points="698.2,219.05 700.8,224.65 695.6,224.65" fill="#8a8a8a" stroke="#262626" stroke-width="0.8" stroke-linejoin="miter"/>
<polygon points="701,219.05 703.6,224.65 698.4,224.65" fill="#8a8a8a" stroke="#262626" stroke-width="0.8" stroke-linejoin="miter"/>
<polygon points="703.8,219.05 706.4,224.65 701.2,224.65" fill="#8a8a8a" stroke="#262626" stroke-width="0.8" stroke-linejoin="miter"/>
<polygon points="694.15,251.8 696.75,257.4 691.55,257.4" fill="#8a8a8a" stroke="#262626" stroke-width="0.8" stroke-linejoin="miter"/>
<polygon points="696.65,251.8 699.25,257.4 694.05,257.4" fill="#8a8a8a" stroke="#262626" stroke-width="0.8" stroke-linejoin="miter"/>
<line x1="538" y1="16.7" x2="670" y2="16.7" stroke="#000" stroke-width="1.9" stroke-linecap="butt"/>
<text x="604" y="11.4" font-size="15.5" font-weight="bold" font-style="normal" text-anchor="middle" style="stroke-width:.08px">**</text>
<line x1="511.3" y1="38" x2="565" y2="38" stroke="#000" stroke-width="1.9" stroke-linecap="butt"/>
<text x="538.15" y="35.5" font-size="15.5" font-weight="bold" font-style="normal" text-anchor="middle" style="stroke-width:.08px">***</text>
<line x1="643" y1="38" x2="696.8" y2="38" stroke="#000" stroke-width="1.9" stroke-linecap="butt"/>
<text x="669.9" y="35.5" font-size="15.5" font-weight="bold" font-style="normal" text-anchor="middle" style="stroke-width:.08px">***</text>
<text x="412" y="20" font-size="22" font-weight="bold" font-style="normal" text-anchor="start" >b</text>
<text x="517.1" y="275.7" font-size="21.6" font-weight="bold" font-style="normal" text-anchor="start" >CS+</text>
<text x="650.7" y="275.7" font-size="21.6" font-weight="bold" font-style="normal" text-anchor="start" >CS-</text>
<text x="541.9" y="306.5" font-size="21.3" font-weight="normal" font-style="italic" text-anchor="start" >Experiment 2</text>
</g>
<g id="panel-c">
<line x1="68" y1="378.65" x2="68" y2="577.05" stroke="#000" stroke-width="1.9" stroke-linecap="butt"/>
<line x1="62" y1="576.1" x2="357" y2="576.1" stroke="#000" stroke-width="1.9" stroke-linecap="butt"/>
<line x1="62" y1="536.8" x2="68" y2="536.8" stroke="#000" stroke-width="1.9" stroke-linecap="butt"/>
<line x1="62" y1="497.5" x2="68" y2="497.5" stroke="#000" stroke-width="1.9" stroke-linecap="butt"/>
<line x1="62" y1="458.2" x2="68" y2="458.2" stroke="#000" stroke-width="1.9" stroke-linecap="butt"/>
<line x1="62" y1="418.9" x2="68" y2="418.9" stroke="#000" stroke-width="1.9" stroke-linecap="butt"/>
<line x1="62" y1="379.6" x2="68" y2="379.6" stroke="#000" stroke-width="1.9" stroke-linecap="butt"/>
<text x="58.4" y="583" font-size="19" font-weight="bold" font-style="normal" text-anchor="end" >0</text>
<text x="58.4" y="543.7" font-size="19" font-weight="bold" font-style="normal" text-anchor="end" >20</text>
<text x="58.4" y="504.4" font-size="19" font-weight="bold" font-style="normal" text-anchor="end" >40</text>
<text x="58.4" y="465.1" font-size="19" font-weight="bold" font-style="normal" text-anchor="end" >60</text>
<text x="58.4" y="425.8" font-size="19" font-weight="bold" font-style="normal" text-anchor="end" >80</text>
<text x="58.4" y="386.5" font-size="19" font-weight="bold" font-style="normal" text-anchor="end" >100</text>
<line x1="120" y1="412.42" x2="120" y2="510.67" stroke="#000" stroke-width="1.9" stroke-linecap="butt"/>
<line x1="106.2" y1="510.67" x2="133.8" y2="510.67" stroke="#000" stroke-width="1.9" stroke-linecap="butt"/>
<rect x="94.75" y="380.55" width="50.5" height="30.92" fill="#fff" stroke="#000" stroke-width="1.9"/>
<rect x="93.8" y="376.8" width="52.2" height="5.3" fill="#fff" stroke="#262626" stroke-width="0.8"/>
<path d="M95.6 377.2V381.7 M97.6 377.2V381.7 M103.2 377.2V381.7 M105.2 377.2V381.7 M111.6 377.2V381.7 M114.4 377.2V381.7 M120.8 377.2V381.7 M122.8 377.2V381.7 M126.8 377.2V381.7 M132.4 377.2V381.7 M134.8 377.2V381.7 M141.2 377.2V381.7" stroke="#262626" stroke-width="0.8" fill="none"/>
<rect x="116.4" y="409.72" width="5.4" height="5.4" fill="#fff" stroke="#262626" stroke-width="0.8"/>
<rect x="118.2" y="409.72" width="5.4" height="5.4" fill="#fff" stroke="#262626" stroke-width="0.8"/>
<rect x="116.3" y="416.2" width="5.4" height="5.4" fill="#fff" stroke="#262626" stroke-width="0.8"/>
<rect x="118.3" y="416.2" width="5.4" height="5.4" fill="#fff" stroke="#262626" stroke-width="0.8"/>
<rect x="115.35" y="426.03" width="5.4" height="5.4" fill="#fff" stroke="#262626" stroke-width="0.8"/>
<rect x="119.25" y="426.03" width="5.4" height="5.4" fill="#fff" stroke="#262626" stroke-width="0.8"/>
<rect x="115.35" y="455.5" width="5.4" height="5.4" fill="#fff" stroke="#262626" stroke-width="0.8"/>
<rect x="119.25" y="455.5" width="5.4" height="5.4" fill="#fff" stroke="#262626" stroke-width="0.8"/>
<rect x="117.3" y="507.97" width="5.4" height="5.4" fill="#fff" stroke="#262626" stroke-width="0.8"/>
<line x1="172.7" y1="492.59" x2="172.7" y2="576.1" stroke="#000" stroke-width="1.9" stroke-linecap="butt"/>
<rect x="147.45" y="380.55" width="50.5" height="111.09" fill="#808080" stroke="#000" stroke-width="1.9"/>
<line x1="147.45" y1="451.72" x2="197.95" y2="451.72" stroke="#000" stroke-width="1.9" stroke-linecap="butt"/>
<polygon points="149.6,376.5 152.2,382.1 147,382.1" fill="#8a8a8a" stroke="#262626" stroke-width="0.8" stroke-linejoin="miter"/>
<polygon points="153.8,376.5 156.4,382.1 151.2,382.1" fill="#8a8a8a" stroke="#262626" stroke-width="0.8" stroke-linejoin="miter"/>
<polygon points="158,376.5 160.6,382.1 155.4,382.1" fill="#8a8a8a" stroke="#262626" stroke-width="0.8" stroke-linejoin="miter"/>
<polygon points="162.2,376.5 164.8,382.1 159.6,382.1" fill="#8a8a8a" stroke="#262626" stroke-width="0.8" stroke-linejoin="miter"/>
<polygon points="166.4,376.5 169,382.1 163.8,382.1" fill="#8a8a8a" stroke="#262626" stroke-width="0.8" stroke-linejoin="miter"/>
<polygon points="170.6,376.5 173.2,382.1 168,382.1" fill="#8a8a8a" stroke="#262626" stroke-width="0.8" stroke-linejoin="miter"/>
<polygon points="174.8,376.5 177.4,382.1 172.2,382.1" fill="#8a8a8a" stroke="#262626" stroke-width="0.8" stroke-linejoin="miter"/>
<polygon points="179,376.5 181.6,382.1 176.4,382.1" fill="#8a8a8a" stroke="#262626" stroke-width="0.8" stroke-linejoin="miter"/>
<polygon points="183.2,376.5 185.8,382.1 180.6,382.1" fill="#8a8a8a" stroke="#262626" stroke-width="0.8" stroke-linejoin="miter"/>
<polygon points="187.4,376.5 190,382.1 184.8,382.1" fill="#8a8a8a" stroke="#262626" stroke-width="0.8" stroke-linejoin="miter"/>
<polygon points="191.6,376.5 194.2,382.1 189,382.1" fill="#8a8a8a" stroke="#262626" stroke-width="0.8" stroke-linejoin="miter"/>
<polygon points="195.8,376.5 198.4,382.1 193.2,382.1" fill="#8a8a8a" stroke="#262626" stroke-width="0.8" stroke-linejoin="miter"/>
<polygon points="167.9,415.8 170.5,421.4 165.3,421.4" fill="#8a8a8a" stroke="#262626" stroke-width="0.8" stroke-linejoin="miter"/>
<polygon points="172.7,415.8 175.3,421.4 170.1,421.4" fill="#8a8a8a" stroke="#262626" stroke-width="0.8" stroke-linejoin="miter"/>
<polygon points="177.5,415.8 180.1,421.4 174.9,421.4" fill="#8a8a8a" stroke="#262626" stroke-width="0.8" stroke-linejoin="miter"/>
<polygon points="160.7,441.93 163.3,447.53 158.1,447.53" fill="#8a8a8a" stroke="#262626" stroke-width="0.8" stroke-linejoin="miter"/>
<polygon points="165.5,441.93 168.1,447.53 162.9,447.53" fill="#8a8a8a" stroke="#262626" stroke-width="0.8" stroke-linejoin="miter"/>
<polygon points="170.3,441.93 172.9,447.53 167.7,447.53" fill="#8a8a8a" stroke="#262626" stroke-width="0.8" stroke-linejoin="miter"/>
<polygon points="175.1,441.93 177.7,447.53 172.5,447.53" fill="#8a8a8a" stroke="#262626" stroke-width="0.8" stroke-linejoin="miter"/>
<polygon points="179.9,441.93 182.5,447.53 177.3,447.53" fill="#8a8a8a" stroke="#262626" stroke-width="0.8" stroke-linejoin="miter"/>
<polygon points="184.7,441.93 187.3,447.53 182.1,447.53" fill="#8a8a8a" stroke="#262626" stroke-width="0.8" stroke-linejoin="miter"/>
<polygon points="167.9,455.1 170.5,460.7 165.3,460.7" fill="#8a8a8a" stroke="#262626" stroke-width="0.8" stroke-linejoin="miter"/>
<polygon points="172.7,455.1 175.3,460.7 170.1,460.7" fill="#8a8a8a" stroke="#262626" stroke-width="0.8" stroke-linejoin="miter"/>
<polygon points="177.5,455.1 180.1,460.7 174.9,460.7" fill="#8a8a8a" stroke="#262626" stroke-width="0.8" stroke-linejoin="miter"/>
<polygon points="158.3,474.75 160.9,480.35 155.7,480.35" fill="#8a8a8a" stroke="#262626" stroke-width="0.8" stroke-linejoin="miter"/>
<polygon points="163.1,474.75 165.7,480.35 160.5,480.35" fill="#8a8a8a" stroke="#262626" stroke-width="0.8" stroke-linejoin="miter"/>
<polygon points="167.9,474.75 170.5,480.35 165.3,480.35" fill="#8a8a8a" stroke="#262626" stroke-width="0.8" stroke-linejoin="miter"/>
<polygon points="172.7,474.75 175.3,480.35 170.1,480.35" fill="#8a8a8a" stroke="#262626" stroke-width="0.8" stroke-linejoin="miter"/>
<polygon points="177.5,474.75 180.1,480.35 174.9,480.35" fill="#8a8a8a" stroke="#262626" stroke-width="0.8" stroke-linejoin="miter"/>
<polygon points="182.3,474.75 184.9,480.35 179.7,480.35" fill="#8a8a8a" stroke="#262626" stroke-width="0.8" stroke-linejoin="miter"/>
<polygon points="187.1,474.75 189.7,480.35 184.5,480.35" fill="#8a8a8a" stroke="#262626" stroke-width="0.8" stroke-linejoin="miter"/>
<polygon points="172.7,494.4 175.3,500 170.1,500" fill="#8a8a8a" stroke="#262626" stroke-width="0.8" stroke-linejoin="miter"/>
<polygon points="170.9,507.57 173.5,513.17 168.3,513.17" fill="#8a8a8a" stroke="#262626" stroke-width="0.8" stroke-linejoin="miter"/>
<polygon points="174.5,507.57 177.1,513.17 171.9,513.17" fill="#8a8a8a" stroke="#262626" stroke-width="0.8" stroke-linejoin="miter"/>
<polygon points="172.7,540.18 175.3,545.78 170.1,545.78" fill="#8a8a8a" stroke="#262626" stroke-width="0.8" stroke-linejoin="miter"/>
<polygon points="161.9,573 164.5,578.6 159.3,578.6" fill="#8a8a8a" stroke="#262626" stroke-width="0.8" stroke-linejoin="miter"/>
<polygon points="167.3,573 169.9,578.6 164.7,578.6" fill="#8a8a8a" stroke="#262626" stroke-width="0.8" stroke-linejoin="miter"/>
<polygon points="172.7,573 175.3,578.6 170.1,578.6" fill="#8a8a8a" stroke="#262626" stroke-width="0.8" stroke-linejoin="miter"/>
<polygon points="178.1,573 180.7,578.6 175.5,578.6" fill="#8a8a8a" stroke="#262626" stroke-width="0.8" stroke-linejoin="miter"/>
<polygon points="183.5,573 186.1,578.6 180.9,578.6" fill="#8a8a8a" stroke="#262626" stroke-width="0.8" stroke-linejoin="miter"/>
<line x1="251.6" y1="379.6" x2="251.6" y2="576.1" stroke="#000" stroke-width="1.9" stroke-linecap="butt"/>
<rect x="225.6" y="376.8" width="52" height="5.3" fill="#fff" stroke="#262626" stroke-width="0.8"/>
<path d="M228.4 377.2V381.7 M231.2 377.2V381.7 M237.2 377.2V381.7 M239.2 377.2V381.7 M245.6 377.2V381.7 M250 377.2V381.7 M252 377.2V381.7 M254.4 377.2V381.7 M260.8 377.2V381.7 M262.8 377.2V381.7 M269.2 377.2V381.7 M270.8 377.2V381.7" stroke="#262626" stroke-width="0.8" fill="none"/>
<rect x="247.1" y="416.2" width="5.4" height="5.4" fill="#fff" stroke="#262626" stroke-width="0.8"/>
<rect x="250.7" y="416.2" width="5.4" height="5.4" fill="#fff" stroke="#262626" stroke-width="0.8"/>
<rect x="247.8" y="426.03" width="5.4" height="5.4" fill="#fff" stroke="#262626" stroke-width="0.8"/>
<rect x="250" y="426.03" width="5.4" height="5.4" fill="#fff" stroke="#262626" stroke-width="0.8"/>
<rect x="248.9" y="442.33" width="5.4" height="5.4" fill="#fff" stroke="#262626" stroke-width="0.8"/>
<rect x="248.9" y="475.15" width="5.4" height="5.4" fill="#fff" stroke="#262626" stroke-width="0.8"/>
<rect x="248.9" y="573.4" width="5.4" height="5.4" fill="#fff" stroke="#262626" stroke-width="0.8"/>
<line x1="304.6" y1="432.85" x2="304.6" y2="576.1" stroke="#000" stroke-width="1.9" stroke-linecap="butt"/>
<rect x="279.35" y="380.55" width="50.5" height="51.35" fill="#808080" stroke="#000" stroke-width="1.9"/>
<polygon points="281.5,376.5 284.1,382.1 278.9,382.1" fill="#8a8a8a" stroke="#262626" stroke-width="0.8" stroke-linejoin="miter"/>
<polygon points="283.7,376.5 286.3,382.1 281.1,382.1" fill="#8a8a8a" stroke="#262626" stroke-width="0.8" stroke-linejoin="miter"/>
<polygon points="285.9,376.5 288.5,382.1 283.3,382.1" fill="#8a8a8a" stroke="#262626" stroke-width="0.8" stroke-linejoin="miter"/>
<polygon points="288.1,376.5 290.7,382.1 285.5,382.1" fill="#8a8a8a" stroke="#262626" stroke-width="0.8" stroke-linejoin="miter"/>
<polygon points="290.3,376.5 292.9,382.1 287.7,382.1" fill="#8a8a8a" stroke="#262626" stroke-width="0.8" stroke-linejoin="miter"/>
<polygon points="292.5,376.5 295.1,382.1 289.9,382.1" fill="#8a8a8a" stroke="#262626" stroke-width="0.8" stroke-linejoin="miter"/>
<polygon points="294.7,376.5 297.3,382.1 292.1,382.1" fill="#8a8a8a" stroke="#262626" stroke-width="0.8" stroke-linejoin="miter"/>
<polygon points="296.9,376.5 299.5,382.1 294.3,382.1" fill="#8a8a8a" stroke="#262626" stroke-width="0.8" stroke-linejoin="miter"/>
<polygon points="299.1,376.5 301.7,382.1 296.5,382.1" fill="#8a8a8a" stroke="#262626" stroke-width="0.8" stroke-linejoin="miter"/>
<polygon points="301.3,376.5 303.9,382.1 298.7,382.1" fill="#8a8a8a" stroke="#262626" stroke-width="0.8" stroke-linejoin="miter"/>
<polygon points="303.5,376.5 306.1,382.1 300.9,382.1" fill="#8a8a8a" stroke="#262626" stroke-width="0.8" stroke-linejoin="miter"/>
<polygon points="305.7,376.5 308.3,382.1 303.1,382.1" fill="#8a8a8a" stroke="#262626" stroke-width="0.8" stroke-linejoin="miter"/>
<polygon points="307.9,376.5 310.5,382.1 305.3,382.1" fill="#8a8a8a" stroke="#262626" stroke-width="0.8" stroke-linejoin="miter"/>
<polygon points="310.1,376.5 312.7,382.1 307.5,382.1" fill="#8a8a8a" stroke="#262626" stroke-width="0.8" stroke-linejoin="miter"/>
<polygon points="312.3,376.5 314.9,382.1 309.7,382.1" fill="#8a8a8a" stroke="#262626" stroke-width="0.8" stroke-linejoin="miter"/>
<polygon points="314.5,376.5 317.1,382.1 311.9,382.1" fill="#8a8a8a" stroke="#262626" stroke-width="0.8" stroke-linejoin="miter"/>
<polygon points="316.7,376.5 319.3,382.1 314.1,382.1" fill="#8a8a8a" stroke="#262626" stroke-width="0.8" stroke-linejoin="miter"/>
<polygon points="318.9,376.5 321.5,382.1 316.3,382.1" fill="#8a8a8a" stroke="#262626" stroke-width="0.8" stroke-linejoin="miter"/>
<polygon points="321.1,376.5 323.7,382.1 318.5,382.1" fill="#8a8a8a" stroke="#262626" stroke-width="0.8" stroke-linejoin="miter"/>
<polygon points="323.3,376.5 325.9,382.1 320.7,382.1" fill="#8a8a8a" stroke="#262626" stroke-width="0.8" stroke-linejoin="miter"/>
<polygon points="325.5,376.5 328.1,382.1 322.9,382.1" fill="#8a8a8a" stroke="#262626" stroke-width="0.8" stroke-linejoin="miter"/>
<polygon points="327.7,376.5 330.3,382.1 325.1,382.1" fill="#8a8a8a" stroke="#262626" stroke-width="0.8" stroke-linejoin="miter"/>
<polygon points="304.6,409.32 307.2,414.92 302,414.92" fill="#8a8a8a" stroke="#262626" stroke-width="0.8" stroke-linejoin="miter"/>
<polygon points="303.3,415.8 305.9,421.4 300.7,421.4" fill="#8a8a8a" stroke="#262626" stroke-width="0.8" stroke-linejoin="miter"/>
<polygon points="305.9,415.8 308.5,421.4 303.3,421.4" fill="#8a8a8a" stroke="#262626" stroke-width="0.8" stroke-linejoin="miter"/>
<polygon points="301.6,425.62 304.2,431.23 299,431.23" fill="#8a8a8a" stroke="#262626" stroke-width="0.8" stroke-linejoin="miter"/>
<polygon points="304.6,425.62 307.2,431.23 302,431.23" fill="#8a8a8a" stroke="#262626" stroke-width="0.8" stroke-linejoin="miter"/>
<polygon points="307.6,425.62 310.2,431.23 305,431.23" fill="#8a8a8a" stroke="#262626" stroke-width="0.8" stroke-linejoin="miter"/>
<polygon points="304.6,441.93 307.2,447.53 302,447.53" fill="#8a8a8a" stroke="#262626" stroke-width="0.8" stroke-linejoin="miter"/>
<polygon points="302.9,474.75 305.5,480.35 300.3,480.35" fill="#8a8a8a" stroke="#262626" stroke-width="0.8" stroke-linejoin="miter"/>
<polygon points="306.3,474.75 308.9,480.35 303.7,480.35" fill="#8a8a8a" stroke="#262626" stroke-width="0.8" stroke-linejoin="miter"/>
<polygon points="304.6,507.57 307.2,513.17 302,513.17" fill="#8a8a8a" stroke="#262626" stroke-width="0.8" stroke-linejoin="miter"/>
<polygon points="301.6,573 304.2,578.6 299,578.6" fill="#8a8a8a" stroke="#262626" stroke-width="0.8" stroke-linejoin="miter"/>
<polygon points="304.6,573 307.2,578.6 302,578.6" fill="#8a8a8a" stroke="#262626" stroke-width="0.8" stroke-linejoin="miter"/>
<polygon points="307.6,573 310.2,578.6 305,578.6" fill="#8a8a8a" stroke="#262626" stroke-width="0.8" stroke-linejoin="miter"/>
<line x1="118" y1="360" x2="172.5" y2="360" stroke="#000" stroke-width="1.9" stroke-linecap="butt"/>
<text x="145.25" y="356.6" font-size="15.5" font-weight="bold" font-style="normal" text-anchor="middle" style="stroke-width:.08px">***</text>
<text x="19" y="341.5" font-size="22" font-weight="bold" font-style="normal" text-anchor="start" >c</text>
<text x="124.5" y="596.8" font-size="21.6" font-weight="bold" font-style="normal" text-anchor="start" >CS+</text>
<text x="259.2" y="596.8" font-size="21.6" font-weight="bold" font-style="normal" text-anchor="start" >CS-</text>
<text x="149" y="627.3" font-size="21.3" font-weight="normal" font-style="italic" text-anchor="start" >Experiment 1</text>
<text transform="translate(17,474) rotate(-90)" font-size="21.3" font-weight="bold" text-anchor="middle">FR: Associations (%)</text>
</g>
<g id="panel-d">
<line x1="460.3" y1="379.35" x2="460.3" y2="578.05" stroke="#000" stroke-width="1.9" stroke-linecap="butt"/>
<line x1="454.3" y1="577.1" x2="748.5" y2="577.1" stroke="#000" stroke-width="1.9" stroke-linecap="butt"/>
<line x1="454.3" y1="537.74" x2="460.3" y2="537.74" stroke="#000" stroke-width="1.9" stroke-linecap="butt"/>
<line x1="454.3" y1="498.38" x2="460.3" y2="498.38" stroke="#000" stroke-width="1.9" stroke-linecap="butt"/>
<line x1="454.3" y1="459.02" x2="460.3" y2="459.02" stroke="#000" stroke-width="1.9" stroke-linecap="butt"/>
<line x1="454.3" y1="419.66" x2="460.3" y2="419.66" stroke="#000" stroke-width="1.9" stroke-linecap="butt"/>
<line x1="454.3" y1="380.3" x2="460.3" y2="380.3" stroke="#000" stroke-width="1.9" stroke-linecap="butt"/>
<text x="450.7" y="584" font-size="19" font-weight="bold" font-style="normal" text-anchor="end" >0</text>
<text x="450.7" y="544.64" font-size="19" font-weight="bold" font-style="normal" text-anchor="end" >20</text>
<text x="450.7" y="505.28" font-size="19" font-weight="bold" font-style="normal" text-anchor="end" >40</text>
<text x="450.7" y="465.92" font-size="19" font-weight="bold" font-style="normal" text-anchor="end" >60</text>
<text x="450.7" y="426.56" font-size="19" font-weight="bold" font-style="normal" text-anchor="end" >80</text>
<text x="450.7" y="387.2" font-size="19" font-weight="bold" font-style="normal" text-anchor="end" >100</text>
<line x1="512.1" y1="418.09" x2="512.1" y2="537.74" stroke="#000" stroke-width="1.9" stroke-linecap="butt"/>
<line x1="498.3" y1="537.74" x2="525.9" y2="537.74" stroke="#000" stroke-width="1.9" stroke-linecap="butt"/>
<rect x="486.85" y="381.25" width="50.5" height="35.89" fill="#fff" stroke="#000" stroke-width="1.9"/>
<rect x="486.4" y="377.5" width="51.8" height="5.3" fill="#fff" stroke="#262626" stroke-width="0.8"/>
<path d="M492 377.9V382.4 M494 377.9V382.4 M499.2 377.9V382.4 M503.6 377.9V382.4 M509.6 377.9V382.4 M512 377.9V382.4 M514 377.9V382.4 M517.2 377.9V382.4 M525.2 377.9V382.4 M527.2 377.9V382.4 M532.8 377.9V382.4" stroke="#262626" stroke-width="0.8" fill="none"/>
<rect x="507.15" y="410.47" width="5.4" height="5.4" fill="#fff" stroke="#262626" stroke-width="0.8"/>
<rect x="511.65" y="410.47" width="5.4" height="5.4" fill="#fff" stroke="#262626" stroke-width="0.8"/>
<rect x="508.15" y="416.96" width="5.4" height="5.4" fill="#fff" stroke="#262626" stroke-width="0.8"/>
<rect x="510.65" y="416.96" width="5.4" height="5.4" fill="#fff" stroke="#262626" stroke-width="0.8"/>
<rect x="506.65" y="426.8" width="5.4" height="5.4" fill="#fff" stroke="#262626" stroke-width="0.8"/>
<rect x="512.15" y="426.8" width="5.4" height="5.4" fill="#fff" stroke="#262626" stroke-width="0.8"/>
<rect x="509.4" y="443.13" width="5.4" height="5.4" fill="#fff" stroke="#262626" stroke-width="0.8"/>
<rect x="509.4" y="456.32" width="5.4" height="5.4" fill="#fff" stroke="#262626" stroke-width="0.8"/>
<rect x="509.4" y="476" width="5.4" height="5.4" fill="#fff" stroke="#262626" stroke-width="0.8"/>
<rect x="509.4" y="525.2" width="5.4" height="5.4" fill="#fff" stroke="#262626" stroke-width="0.8"/>
<rect x="509.4" y="535.04" width="5.4" height="5.4" fill="#fff" stroke="#262626" stroke-width="0.8"/>
<line x1="565" y1="544.23" x2="565" y2="577.1" stroke="#000" stroke-width="1.9" stroke-linecap="butt"/>
<rect x="539.75" y="381.25" width="50.5" height="162.03" fill="#808080" stroke="#000" stroke-width="1.9"/>
<line x1="539.75" y1="478.7" x2="590.25" y2="478.7" stroke="#000" stroke-width="1.9" stroke-linecap="butt"/>
<polygon points="541.73,377.2 544.33,382.8 539.12,382.8" fill="#8a8a8a" stroke="#262626" stroke-width="0.8" stroke-linejoin="miter"/>
<polygon points="544.18,377.2 546.78,382.8 541.58,382.8" fill="#8a8a8a" stroke="#262626" stroke-width="0.8" stroke-linejoin="miter"/>
<polygon points="546.62,377.2 549.23,382.8 544.02,382.8" fill="#8a8a8a" stroke="#262626" stroke-width="0.8" stroke-linejoin="miter"/>
<polygon points="549.08,377.2 551.68,382.8 546.48,382.8" fill="#8a8a8a" stroke="#262626" stroke-width="0.8" stroke-linejoin="miter"/>
<polygon points="551.52,377.2 554.12,382.8 548.92,382.8" fill="#8a8a8a" stroke="#262626" stroke-width="0.8" stroke-linejoin="miter"/>
<polygon points="553.98,377.2 556.58,382.8 551.38,382.8" fill="#8a8a8a" stroke="#262626" stroke-width="0.8" stroke-linejoin="miter"/>
<polygon points="556.43,377.2 559.03,382.8 553.83,382.8" fill="#8a8a8a" stroke="#262626" stroke-width="0.8" stroke-linejoin="miter"/>
<polygon points="558.88,377.2 561.48,382.8 556.27,382.8" fill="#8a8a8a" stroke="#262626" stroke-width="0.8" stroke-linejoin="miter"/>
<polygon points="561.33,377.2 563.93,382.8 558.73,382.8" fill="#8a8a8a" stroke="#262626" stroke-width="0.8" stroke-linejoin="miter"/>
<polygon points="563.77,377.2 566.38,382.8 561.17,382.8" fill="#8a8a8a" stroke="#262626" stroke-width="0.8" stroke-linejoin="miter"/>
<polygon points="566.23,377.2 568.83,382.8 563.62,382.8" fill="#8a8a8a" stroke="#262626" stroke-width="0.8" stroke-linejoin="miter"/>
<polygon points="568.68,377.2 571.28,382.8 566.08,382.8" fill="#8a8a8a" stroke="#262626" stroke-width="0.8" stroke-linejoin="miter"/>
<polygon points="571.12,377.2 573.73,382.8 568.52,382.8" fill="#8a8a8a" stroke="#262626" stroke-width="0.8" stroke-linejoin="miter"/>
<polygon points="573.58,377.2 576.18,382.8 570.98,382.8" fill="#8a8a8a" stroke="#262626" stroke-width="0.8" stroke-linejoin="miter"/>
<polygon points="576.02,377.2 578.62,382.8 573.42,382.8" fill="#8a8a8a" stroke="#262626" stroke-width="0.8" stroke-linejoin="miter"/>
<polygon points="578.48,377.2 581.08,382.8 575.88,382.8" fill="#8a8a8a" stroke="#262626" stroke-width="0.8" stroke-linejoin="miter"/>
<polygon points="580.93,377.2 583.53,382.8 578.33,382.8" fill="#8a8a8a" stroke="#262626" stroke-width="0.8" stroke-linejoin="miter"/>
<polygon points="583.38,377.2 585.98,382.8 580.77,382.8" fill="#8a8a8a" stroke="#262626" stroke-width="0.8" stroke-linejoin="miter"/>
<polygon points="585.83,377.2 588.43,382.8 583.23,382.8" fill="#8a8a8a" stroke="#262626" stroke-width="0.8" stroke-linejoin="miter"/>
<polygon points="588.27,377.2 590.88,382.8 585.67,382.8" fill="#8a8a8a" stroke="#262626" stroke-width="0.8" stroke-linejoin="miter"/>
<polygon points="563.5,410.07 566.1,415.67 560.9,415.67" fill="#8a8a8a" stroke="#262626" stroke-width="0.8" stroke-linejoin="miter"/>
<polygon points="566.5,410.07 569.1,415.67 563.9,415.67" fill="#8a8a8a" stroke="#262626" stroke-width="0.8" stroke-linejoin="miter"/>
<polygon points="560.8,426.4 563.4,432 558.2,432" fill="#8a8a8a" stroke="#262626" stroke-width="0.8" stroke-linejoin="miter"/>
<polygon points="565,426.4 567.6,432 562.4,432" fill="#8a8a8a" stroke="#262626" stroke-width="0.8" stroke-linejoin="miter"/>
<polygon points="569.2,426.4 571.8,432 566.6,432" fill="#8a8a8a" stroke="#262626" stroke-width="0.8" stroke-linejoin="miter"/>
<polygon points="559.6,442.73 562.2,448.33 557,448.33" fill="#8a8a8a" stroke="#262626" stroke-width="0.8" stroke-linejoin="miter"/>
<polygon points="563.2,442.73 565.8,448.33 560.6,448.33" fill="#8a8a8a" stroke="#262626" stroke-width="0.8" stroke-linejoin="miter"/>
<polygon points="566.8,442.73 569.4,448.33 564.2,448.33" fill="#8a8a8a" stroke="#262626" stroke-width="0.8" stroke-linejoin="miter"/>
<polygon points="570.4,442.73 573,448.33 567.8,448.33" fill="#8a8a8a" stroke="#262626" stroke-width="0.8" stroke-linejoin="miter"/>
<polygon points="563.5,455.92 566.1,461.52 560.9,461.52" fill="#8a8a8a" stroke="#262626" stroke-width="0.8" stroke-linejoin="miter"/>
<polygon points="566.5,455.92 569.1,461.52 563.9,461.52" fill="#8a8a8a" stroke="#262626" stroke-width="0.8" stroke-linejoin="miter"/>
<polygon points="560,475.6 562.6,481.2 557.4,481.2" fill="#8a8a8a" stroke="#262626" stroke-width="0.8" stroke-linejoin="miter"/>
<polygon points="562.5,475.6 565.1,481.2 559.9,481.2" fill="#8a8a8a" stroke="#262626" stroke-width="0.8" stroke-linejoin="miter"/>
<polygon points="565,475.6 567.6,481.2 562.4,481.2" fill="#8a8a8a" stroke="#262626" stroke-width="0.8" stroke-linejoin="miter"/>
<polygon points="567.5,475.6 570.1,481.2 564.9,481.2" fill="#8a8a8a" stroke="#262626" stroke-width="0.8" stroke-linejoin="miter"/>
<polygon points="570,475.6 572.6,481.2 567.4,481.2" fill="#8a8a8a" stroke="#262626" stroke-width="0.8" stroke-linejoin="miter"/>
<polygon points="562,495.28 564.6,500.88 559.4,500.88" fill="#8a8a8a" stroke="#262626" stroke-width="0.8" stroke-linejoin="miter"/>
<polygon points="565,495.28 567.6,500.88 562.4,500.88" fill="#8a8a8a" stroke="#262626" stroke-width="0.8" stroke-linejoin="miter"/>
<polygon points="568,495.28 570.6,500.88 565.4,500.88" fill="#8a8a8a" stroke="#262626" stroke-width="0.8" stroke-linejoin="miter"/>
<polygon points="559.6,508.47 562.2,514.07 557,514.07" fill="#8a8a8a" stroke="#262626" stroke-width="0.8" stroke-linejoin="miter"/>
<polygon points="563.2,508.47 565.8,514.07 560.6,514.07" fill="#8a8a8a" stroke="#262626" stroke-width="0.8" stroke-linejoin="miter"/>
<polygon points="566.8,508.47 569.4,514.07 564.2,514.07" fill="#8a8a8a" stroke="#262626" stroke-width="0.8" stroke-linejoin="miter"/>
<polygon points="570.4,508.47 573,514.07 567.8,514.07" fill="#8a8a8a" stroke="#262626" stroke-width="0.8" stroke-linejoin="miter"/>
<polygon points="563.5,524.8 566.1,530.4 560.9,530.4" fill="#8a8a8a" stroke="#262626" stroke-width="0.8" stroke-linejoin="miter"/>
<polygon points="566.5,524.8 569.1,530.4 563.9,530.4" fill="#8a8a8a" stroke="#262626" stroke-width="0.8" stroke-linejoin="miter"/>
<polygon points="565,534.64 567.6,540.24 562.4,540.24" fill="#8a8a8a" stroke="#262626" stroke-width="0.8" stroke-linejoin="miter"/>
<polygon points="565,541.13 567.6,546.73 562.4,546.73" fill="#8a8a8a" stroke="#262626" stroke-width="0.8" stroke-linejoin="miter"/>
<polygon points="546.8,574 549.4,579.6 544.2,579.6" fill="#8a8a8a" stroke="#262626" stroke-width="0.8" stroke-linejoin="miter"/>
<polygon points="549.4,574 552,579.6 546.8,579.6" fill="#8a8a8a" stroke="#262626" stroke-width="0.8" stroke-linejoin="miter"/>
<polygon points="552,574 554.6,579.6 549.4,579.6" fill="#8a8a8a" stroke="#262626" stroke-width="0.8" stroke-linejoin="miter"/>
<polygon points="554.6,574 557.2,579.6 552,579.6" fill="#8a8a8a" stroke="#262626" stroke-width="0.8" stroke-linejoin="miter"/>
<polygon points="557.2,574 559.8,579.6 554.6,579.6" fill="#8a8a8a" stroke="#262626" stroke-width="0.8" stroke-linejoin="miter"/>
<polygon points="559.8,574 562.4,579.6 557.2,579.6" fill="#8a8a8a" stroke="#262626" stroke-width="0.8" stroke-linejoin="miter"/>
<polygon points="562.4,574 565,579.6 559.8,579.6" fill="#8a8a8a" stroke="#262626" stroke-width="0.8" stroke-linejoin="miter"/>
<polygon points="565,574 567.6,579.6 562.4,579.6" fill="#8a8a8a" stroke="#262626" stroke-width="0.8" stroke-linejoin="miter"/>
<polygon points="567.6,574 570.2,579.6 565,579.6" fill="#8a8a8a" stroke="#262626" stroke-width="0.8" stroke-linejoin="miter"/>
<polygon points="570.2,574 572.8,579.6 567.6,579.6" fill="#8a8a8a" stroke="#262626" stroke-width="0.8" stroke-linejoin="miter"/>
<polygon points="572.8,574 575.4,579.6 570.2,579.6" fill="#8a8a8a" stroke="#262626" stroke-width="0.8" stroke-linejoin="miter"/>
<polygon points="575.4,574 578,579.6 572.8,579.6" fill="#8a8a8a" stroke="#262626" stroke-width="0.8" stroke-linejoin="miter"/>
<polygon points="578,574 580.6,579.6 575.4,579.6" fill="#8a8a8a" stroke="#262626" stroke-width="0.8" stroke-linejoin="miter"/>
<polygon points="580.6,574 583.2,579.6 578,579.6" fill="#8a8a8a" stroke="#262626" stroke-width="0.8" stroke-linejoin="miter"/>
<polygon points="583.2,574 585.8,579.6 580.6,579.6" fill="#8a8a8a" stroke="#262626" stroke-width="0.8" stroke-linejoin="miter"/>
<line x1="643.7" y1="380.3" x2="643.7" y2="577.1" stroke="#000" stroke-width="1.9" stroke-linecap="butt"/>
<rect x="617.4" y="377.5" width="52.2" height="5.3" fill="#fff" stroke="#262626" stroke-width="0.8"/>
<path d="M623.4 377.9V382.4 M625.4 377.9V382.4 M632.2 377.9V382.4 M636.2 377.9V382.4 M643 377.9V382.4 M650.2 377.9V382.4 M651.8 377.9V382.4 M656.6 377.9V382.4 M664.2 377.9V382.4" stroke="#262626" stroke-width="0.8" fill="none"/>
<rect x="640.5" y="410.47" width="5.4" height="5.4" fill="#fff" stroke="#262626" stroke-width="0.8"/>
<rect x="641.5" y="410.47" width="5.4" height="5.4" fill="#fff" stroke="#262626" stroke-width="0.8"/>
<rect x="640.15" y="416.96" width="5.4" height="5.4" fill="#fff" stroke="#262626" stroke-width="0.8"/>
<rect x="641.85" y="416.96" width="5.4" height="5.4" fill="#fff" stroke="#262626" stroke-width="0.8"/>
<rect x="640.5" y="426.8" width="5.4" height="5.4" fill="#fff" stroke="#262626" stroke-width="0.8"/>
<rect x="641.5" y="426.8" width="5.4" height="5.4" fill="#fff" stroke="#262626" stroke-width="0.8"/>
<rect x="639.5" y="443.13" width="5.4" height="5.4" fill="#fff" stroke="#262626" stroke-width="0.8"/>
<rect x="642.5" y="443.13" width="5.4" height="5.4" fill="#fff" stroke="#262626" stroke-width="0.8"/>
<rect x="641" y="476" width="5.4" height="5.4" fill="#fff" stroke="#262626" stroke-width="0.8"/>
<rect x="641" y="574.4" width="5.4" height="5.4" fill="#fff" stroke="#262626" stroke-width="0.8"/>
<line x1="696.3" y1="445.83" x2="696.3" y2="577.1" stroke="#000" stroke-width="1.9" stroke-linecap="butt"/>
<rect x="671.05" y="381.25" width="50.5" height="63.63" fill="#808080" stroke="#000" stroke-width="1.9"/>
<polygon points="673.02,377.2 675.62,382.8 670.42,382.8" fill="#8a8a8a" stroke="#262626" stroke-width="0.8" stroke-linejoin="miter"/>
<polygon points="675.48,377.2 678.08,382.8 672.88,382.8" fill="#8a8a8a" stroke="#262626" stroke-width="0.8" stroke-linejoin="miter"/>
<polygon points="677.92,377.2 680.52,382.8 675.32,382.8" fill="#8a8a8a" stroke="#262626" stroke-width="0.8" stroke-linejoin="miter"/>
<polygon points="680.38,377.2 682.98,382.8 677.77,382.8" fill="#8a8a8a" stroke="#262626" stroke-width="0.8" stroke-linejoin="miter"/>
<polygon points="682.82,377.2 685.42,382.8 680.22,382.8" fill="#8a8a8a" stroke="#262626" stroke-width="0.8" stroke-linejoin="miter"/>
<polygon points="685.27,377.2 687.88,382.8 682.67,382.8" fill="#8a8a8a" stroke="#262626" stroke-width="0.8" stroke-linejoin="miter"/>
<polygon points="687.73,377.2 690.33,382.8 685.12,382.8" fill="#8a8a8a" stroke="#262626" stroke-width="0.8" stroke-linejoin="miter"/>
<polygon points="690.17,377.2 692.77,382.8 687.57,382.8" fill="#8a8a8a" stroke="#262626" stroke-width="0.8" stroke-linejoin="miter"/>
<polygon points="692.62,377.2 695.23,382.8 690.02,382.8" fill="#8a8a8a" stroke="#262626" stroke-width="0.8" stroke-linejoin="miter"/>
<polygon points="695.07,377.2 697.67,382.8 692.47,382.8" fill="#8a8a8a" stroke="#262626" stroke-width="0.8" stroke-linejoin="miter"/>
<polygon points="697.52,377.2 700.12,382.8 694.92,382.8" fill="#8a8a8a" stroke="#262626" stroke-width="0.8" stroke-linejoin="miter"/>
<polygon points="699.98,377.2 702.58,382.8 697.38,382.8" fill="#8a8a8a" stroke="#262626" stroke-width="0.8" stroke-linejoin="miter"/>
<polygon points="702.42,377.2 705.02,382.8 699.82,382.8" fill="#8a8a8a" stroke="#262626" stroke-width="0.8" stroke-linejoin="miter"/>
<polygon points="704.88,377.2 707.48,382.8 702.27,382.8" fill="#8a8a8a" stroke="#262626" stroke-width="0.8" stroke-linejoin="miter"/>
<polygon points="707.32,377.2 709.92,382.8 704.72,382.8" fill="#8a8a8a" stroke="#262626" stroke-width="0.8" stroke-linejoin="miter"/>
<polygon points="709.77,377.2 712.38,382.8 707.17,382.8" fill="#8a8a8a" stroke="#262626" stroke-width="0.8" stroke-linejoin="miter"/>
<polygon points="712.23,377.2 714.83,382.8 709.62,382.8" fill="#8a8a8a" stroke="#262626" stroke-width="0.8" stroke-linejoin="miter"/>
<polygon points="714.67,377.2 717.27,382.8 712.07,382.8" fill="#8a8a8a" stroke="#262626" stroke-width="0.8" stroke-linejoin="miter"/>
<polygon points="717.12,377.2 719.73,382.8 714.52,382.8" fill="#8a8a8a" stroke="#262626" stroke-width="0.8" stroke-linejoin="miter"/>
<polygon points="719.57,377.2 722.17,382.8 716.97,382.8" fill="#8a8a8a" stroke="#262626" stroke-width="0.8" stroke-linejoin="miter"/>
<polygon points="696.3,410.07 698.9,415.67 693.7,415.67" fill="#8a8a8a" stroke="#262626" stroke-width="0.8" stroke-linejoin="miter"/>
<polygon points="694.8,416.56 697.4,422.16 692.2,422.16" fill="#8a8a8a" stroke="#262626" stroke-width="0.8" stroke-linejoin="miter"/>
<polygon points="697.8,416.56 700.4,422.16 695.2,422.16" fill="#8a8a8a" stroke="#262626" stroke-width="0.8" stroke-linejoin="miter"/>
<polygon points="692.1,426.4 694.7,432 689.5,432" fill="#8a8a8a" stroke="#262626" stroke-width="0.8" stroke-linejoin="miter"/>
<polygon points="696.3,426.4 698.9,432 693.7,432" fill="#8a8a8a" stroke="#262626" stroke-width="0.8" stroke-linejoin="miter"/>
<polygon points="700.5,426.4 703.1,432 697.9,432" fill="#8a8a8a" stroke="#262626" stroke-width="0.8" stroke-linejoin="miter"/>
<polygon points="693.3,442.73 695.9,448.33 690.7,448.33" fill="#8a8a8a" stroke="#262626" stroke-width="0.8" stroke-linejoin="miter"/>
<polygon points="696.3,442.73 698.9,448.33 693.7,448.33" fill="#8a8a8a" stroke="#262626" stroke-width="0.8" stroke-linejoin="miter"/>
<polygon points="699.3,442.73 701.9,448.33 696.7,448.33" fill="#8a8a8a" stroke="#262626" stroke-width="0.8" stroke-linejoin="miter"/>
<polygon points="696.3,455.92 698.9,461.52 693.7,461.52" fill="#8a8a8a" stroke="#262626" stroke-width="0.8" stroke-linejoin="miter"/>
<polygon points="693.3,475.6 695.9,481.2 690.7,481.2" fill="#8a8a8a" stroke="#262626" stroke-width="0.8" stroke-linejoin="miter"/>
<polygon points="696.3,475.6 698.9,481.2 693.7,481.2" fill="#8a8a8a" stroke="#262626" stroke-width="0.8" stroke-linejoin="miter"/>
<polygon points="699.3,475.6 701.9,481.2 696.7,481.2" fill="#8a8a8a" stroke="#262626" stroke-width="0.8" stroke-linejoin="miter"/>
<polygon points="696.3,508.47 698.9,514.07 693.7,514.07" fill="#8a8a8a" stroke="#262626" stroke-width="0.8" stroke-linejoin="miter"/>
<polygon points="696.3,534.64 698.9,540.24 693.7,540.24" fill="#8a8a8a" stroke="#262626" stroke-width="0.8" stroke-linejoin="miter"/>
<polygon points="693.7,574 696.3,579.6 691.1,579.6" fill="#8a8a8a" stroke="#262626" stroke-width="0.8" stroke-linejoin="miter"/>
<polygon points="696.3,574 698.9,579.6 693.7,579.6" fill="#8a8a8a" stroke="#262626" stroke-width="0.8" stroke-linejoin="miter"/>
<polygon points="698.9,574 701.5,579.6 696.3,579.6" fill="#8a8a8a" stroke="#262626" stroke-width="0.8" stroke-linejoin="miter"/>
<line x1="538.8" y1="339.5" x2="671.2" y2="339.5" stroke="#000" stroke-width="1.9" stroke-linecap="butt"/>
<text x="605" y="337" font-size="15.5" font-weight="bold" font-style="normal" text-anchor="middle" style="stroke-width:.08px">***</text>
<line x1="511.8" y1="359.6" x2="565.8" y2="359.6" stroke="#000" stroke-width="1.9" stroke-linecap="butt"/>
<text x="538.8" y="357" font-size="15.5" font-weight="bold" font-style="normal" text-anchor="middle" style="stroke-width:.08px">***</text>
<line x1="644.2" y1="359.6" x2="697.5" y2="359.6" stroke="#000" stroke-width="1.9" stroke-linecap="butt"/>
<text x="670.85" y="357" font-size="15.5" font-weight="bold" font-style="normal" text-anchor="middle" style="stroke-width:.08px">*</text>
<text x="411" y="341.5" font-size="22" font-weight="bold" font-style="normal" text-anchor="start" >d</text>
<text x="517.1" y="598.1" font-size="21.6" font-weight="bold" font-style="normal" text-anchor="start" >CS+</text>
<text x="650.7" y="598.1" font-size="21.6" font-weight="bold" font-style="normal" text-anchor="start" >CS-</text>
<text x="541.9" y="628.6" font-size="21.3" font-weight="normal" font-style="italic" text-anchor="start" >Experiment 2</text>
</g>
<g id="legend">
<rect x="274.45" y="667.95" width="21.1" height="13.8" fill="#fff" stroke="#000" stroke-width="1.9"/>
<text x="307" y="681.8" font-size="19" font-weight="normal" font-style="normal" text-anchor="start" >Remember</text>
<rect x="414.6" y="668.9" width="21" height="13.8" fill="#808080" stroke="#000" stroke-width="1.9"/>
<text x="447" y="682" font-size="19" font-weight="normal" font-style="normal" text-anchor="start" >Forget</text>
</g>
</svg></body></html>
